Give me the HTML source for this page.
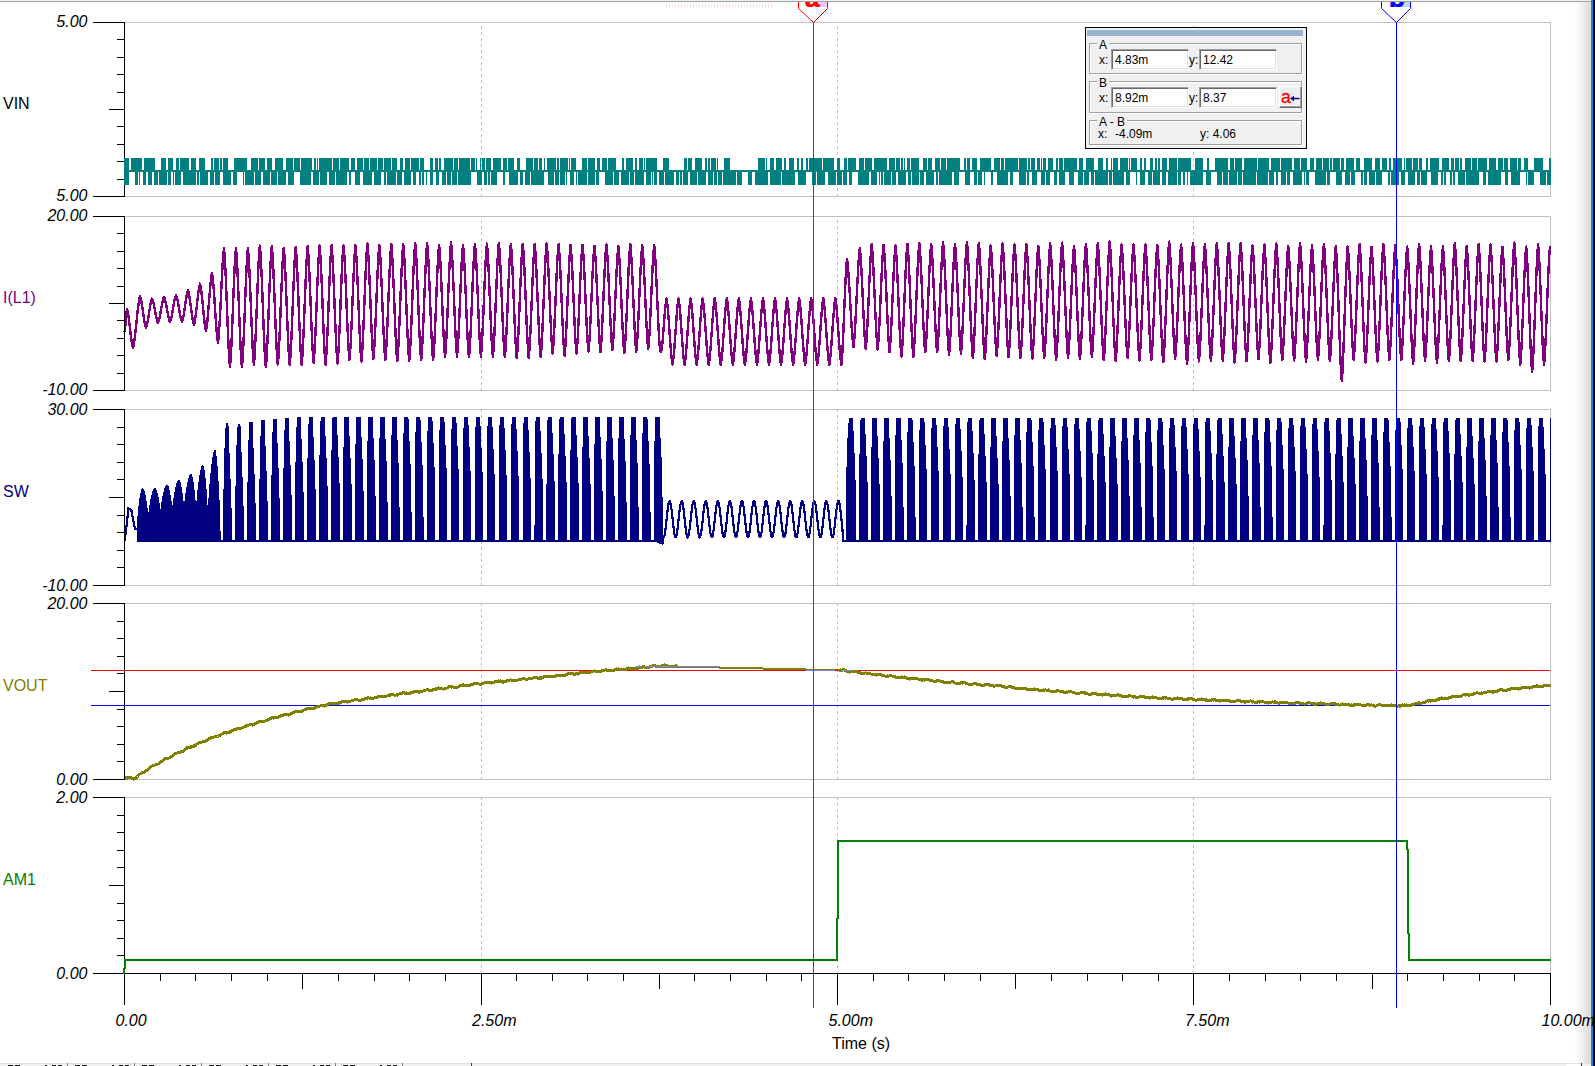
<!DOCTYPE html>
<html><head><meta charset="utf-8"><title>TINA transient result</title>
<style>
html,body{margin:0;padding:0;background:#fff;}
body{width:1595px;height:1066px;position:relative;overflow:hidden;font-family:"Liberation Sans", sans-serif;}
.t{position:absolute;white-space:nowrap;line-height:1;color:#000;}
.yl{font-style:italic;font-size:16px;text-align:right;width:70px;left:17.5px;}
.xl{font-style:italic;font-size:16px;}
.sl{font-size:16px;left:3px;}
#dlg{position:absolute;left:1085px;top:27px;width:220px;height:120px;border:1px solid #000;background:#f0f0f0;font-size:12px;}
#dlg .cap{position:absolute;left:1px;top:2px;width:216px;height:6px;background:#99b4d1;}
#dlg .grp{position:absolute;left:3px;width:211px;border:1px solid #a0a0a0;box-shadow:1px 1px 0 #fff, inset 1px 1px 0 #fff;}
#dlg .gl{position:absolute;left:11px;background:#f0f0f0;padding:0 2px;line-height:1;}
#dlg .in{position:absolute;width:76px;height:19px;background:#fff;border-top:1px solid #a0a0a0;border-left:1px solid #a0a0a0;border-right:1px solid #fff;border-bottom:1px solid #fff;box-shadow:inset 1px 1px 0 #696969, inset -1px -1px 0 #e3e3e3;}
#dlg .tx{position:absolute;line-height:1;white-space:nowrap;}
#dlg .btn{position:absolute;left:193px;top:58px;width:21px;height:20px;background:#f0f0f0;border-top:1px solid #fff;border-left:1px solid #fff;border-right:1px solid #696969;border-bottom:1px solid #696969;box-shadow:inset -1px -1px 0 #a0a0a0;}

</style></head><body>
<div style="position:absolute;left:0;top:0;width:1591px;height:1px;background:#f0f0f0"></div>
<div style="position:absolute;left:0;top:1px;width:1591px;height:1px;background:#a0a0a0"></div>
<div style="position:absolute;left:1574px;top:2px;width:17px;height:1061px;background:linear-gradient(to right,#fff,#f2f2f2 45%,#dcdcdc 92%,#e6e0d8)"></div>
<div style="position:absolute;left:1591px;top:0;width:2px;height:1066px;background:#1883e0"></div>
<div style="position:absolute;left:1593px;top:0;width:2px;height:1066px;background:#000"></div>
<div style="position:absolute;left:0;top:1063px;width:1591px;height:3px;background:#f0f0f0;border-top:1px solid #e0e0e0;box-sizing:border-box"></div>
<div style="position:absolute;left:67px;top:1063px;width:1px;height:3px;background:#808080"></div>
<div style="position:absolute;left:134px;top:1063px;width:1px;height:3px;background:#808080"></div>
<div style="position:absolute;left:201px;top:1063px;width:1px;height:3px;background:#808080"></div>
<div style="position:absolute;left:268px;top:1063px;width:1px;height:3px;background:#808080"></div>
<div style="position:absolute;left:335px;top:1063px;width:1px;height:3px;background:#808080"></div>
<div style="position:absolute;left:402px;top:1063px;width:1px;height:3px;background:#808080"></div>
<div style="position:absolute;left:471px;top:1063px;width:1px;height:3px;background:#404040"></div>
<div style="position:absolute;left:1566px;top:1064px;width:14px;height:2px;background:#fff"></div>
<div style="position:absolute;left:1581px;top:1063px;width:1px;height:3px;background:#404040"></div>
<div style="position:absolute;left:8px;top:1065px;width:5px;height:1px;background:#1a1a1a"></div>
<div style="position:absolute;left:15px;top:1065px;width:5px;height:1px;background:#1a1a1a"></div>
<div style="position:absolute;left:45px;top:1065px;width:2px;height:1px;background:#1a1a1a"></div>
<div style="position:absolute;left:52px;top:1065px;width:4px;height:1px;background:#1a1a1a"></div>
<div style="position:absolute;left:58px;top:1065px;width:4px;height:1px;background:#1a1a1a"></div>
<div style="position:absolute;left:75px;top:1065px;width:5px;height:1px;background:#1a1a1a"></div>
<div style="position:absolute;left:82px;top:1065px;width:5px;height:1px;background:#1a1a1a"></div>
<div style="position:absolute;left:112px;top:1065px;width:2px;height:1px;background:#1a1a1a"></div>
<div style="position:absolute;left:119px;top:1065px;width:4px;height:1px;background:#1a1a1a"></div>
<div style="position:absolute;left:125px;top:1065px;width:4px;height:1px;background:#1a1a1a"></div>
<div style="position:absolute;left:142px;top:1065px;width:5px;height:1px;background:#1a1a1a"></div>
<div style="position:absolute;left:149px;top:1065px;width:5px;height:1px;background:#1a1a1a"></div>
<div style="position:absolute;left:179px;top:1065px;width:2px;height:1px;background:#1a1a1a"></div>
<div style="position:absolute;left:186px;top:1065px;width:4px;height:1px;background:#1a1a1a"></div>
<div style="position:absolute;left:192px;top:1065px;width:4px;height:1px;background:#1a1a1a"></div>
<div style="position:absolute;left:209px;top:1065px;width:5px;height:1px;background:#1a1a1a"></div>
<div style="position:absolute;left:216px;top:1065px;width:5px;height:1px;background:#1a1a1a"></div>
<div style="position:absolute;left:246px;top:1065px;width:2px;height:1px;background:#1a1a1a"></div>
<div style="position:absolute;left:253px;top:1065px;width:4px;height:1px;background:#1a1a1a"></div>
<div style="position:absolute;left:259px;top:1065px;width:4px;height:1px;background:#1a1a1a"></div>
<div style="position:absolute;left:276px;top:1065px;width:5px;height:1px;background:#1a1a1a"></div>
<div style="position:absolute;left:283px;top:1065px;width:5px;height:1px;background:#1a1a1a"></div>
<div style="position:absolute;left:313px;top:1065px;width:2px;height:1px;background:#1a1a1a"></div>
<div style="position:absolute;left:320px;top:1065px;width:4px;height:1px;background:#1a1a1a"></div>
<div style="position:absolute;left:326px;top:1065px;width:4px;height:1px;background:#1a1a1a"></div>
<div style="position:absolute;left:343px;top:1065px;width:5px;height:1px;background:#1a1a1a"></div>
<div style="position:absolute;left:350px;top:1065px;width:5px;height:1px;background:#1a1a1a"></div>
<div style="position:absolute;left:380px;top:1065px;width:2px;height:1px;background:#1a1a1a"></div>
<div style="position:absolute;left:387px;top:1065px;width:4px;height:1px;background:#1a1a1a"></div>
<div style="position:absolute;left:393px;top:1065px;width:4px;height:1px;background:#1a1a1a"></div>
<svg width="1595" height="1066" viewBox="0 0 1595 1066" style="position:absolute;left:0;top:0" shape-rendering="crispEdges">
<rect x="124" y="22" width="1427" height="1" fill="#c0c0c0"/>
<rect x="124" y="196" width="1427" height="1" fill="#c0c0c0"/>
<rect x="1550" y="22" width="1" height="175" fill="#c0c0c0"/>
<path d="M481 26h1v3h-1zM481 32h1v3h-1zM481 38h1v3h-1zM481 44h1v3h-1zM481 50h1v3h-1zM481 56h1v3h-1zM481 62h1v3h-1zM481 68h1v3h-1zM481 74h1v3h-1zM481 80h1v3h-1zM481 86h1v3h-1zM481 92h1v3h-1zM481 98h1v3h-1zM481 104h1v3h-1zM481 110h1v3h-1zM481 116h1v3h-1zM481 122h1v3h-1zM481 128h1v3h-1zM481 134h1v3h-1zM481 140h1v3h-1zM481 146h1v3h-1zM481 152h1v3h-1zM481 158h1v3h-1zM481 164h1v3h-1zM481 170h1v3h-1zM481 176h1v3h-1zM481 182h1v3h-1zM481 188h1v3h-1zM481 194h1v2h-1z" fill="#c0c0c0"/>
<path d="M837 26h1v3h-1zM837 32h1v3h-1zM837 38h1v3h-1zM837 44h1v3h-1zM837 50h1v3h-1zM837 56h1v3h-1zM837 62h1v3h-1zM837 68h1v3h-1zM837 74h1v3h-1zM837 80h1v3h-1zM837 86h1v3h-1zM837 92h1v3h-1zM837 98h1v3h-1zM837 104h1v3h-1zM837 110h1v3h-1zM837 116h1v3h-1zM837 122h1v3h-1zM837 128h1v3h-1zM837 134h1v3h-1zM837 140h1v3h-1zM837 146h1v3h-1zM837 152h1v3h-1zM837 158h1v3h-1zM837 164h1v3h-1zM837 170h1v3h-1zM837 176h1v3h-1zM837 182h1v3h-1zM837 188h1v3h-1zM837 194h1v2h-1z" fill="#c0c0c0"/>
<path d="M1193 26h1v3h-1zM1193 32h1v3h-1zM1193 38h1v3h-1zM1193 44h1v3h-1zM1193 50h1v3h-1zM1193 56h1v3h-1zM1193 62h1v3h-1zM1193 68h1v3h-1zM1193 74h1v3h-1zM1193 80h1v3h-1zM1193 86h1v3h-1zM1193 92h1v3h-1zM1193 98h1v3h-1zM1193 104h1v3h-1zM1193 110h1v3h-1zM1193 116h1v3h-1zM1193 122h1v3h-1zM1193 128h1v3h-1zM1193 134h1v3h-1zM1193 140h1v3h-1zM1193 146h1v3h-1zM1193 152h1v3h-1zM1193 158h1v3h-1zM1193 164h1v3h-1zM1193 170h1v3h-1zM1193 176h1v3h-1zM1193 182h1v3h-1zM1193 188h1v3h-1zM1193 194h1v2h-1z" fill="#c0c0c0"/>
<rect x="124" y="216" width="1427" height="1" fill="#c0c0c0"/>
<rect x="124" y="390" width="1427" height="1" fill="#c0c0c0"/>
<rect x="1550" y="216" width="1" height="175" fill="#c0c0c0"/>
<path d="M481 220h1v3h-1zM481 226h1v3h-1zM481 232h1v3h-1zM481 238h1v3h-1zM481 244h1v3h-1zM481 250h1v3h-1zM481 256h1v3h-1zM481 262h1v3h-1zM481 268h1v3h-1zM481 274h1v3h-1zM481 280h1v3h-1zM481 286h1v3h-1zM481 292h1v3h-1zM481 298h1v3h-1zM481 304h1v3h-1zM481 310h1v3h-1zM481 316h1v3h-1zM481 322h1v3h-1zM481 328h1v3h-1zM481 334h1v3h-1zM481 340h1v3h-1zM481 346h1v3h-1zM481 352h1v3h-1zM481 358h1v3h-1zM481 364h1v3h-1zM481 370h1v3h-1zM481 376h1v3h-1zM481 382h1v3h-1zM481 388h1v2h-1z" fill="#c0c0c0"/>
<path d="M837 220h1v3h-1zM837 226h1v3h-1zM837 232h1v3h-1zM837 238h1v3h-1zM837 244h1v3h-1zM837 250h1v3h-1zM837 256h1v3h-1zM837 262h1v3h-1zM837 268h1v3h-1zM837 274h1v3h-1zM837 280h1v3h-1zM837 286h1v3h-1zM837 292h1v3h-1zM837 298h1v3h-1zM837 304h1v3h-1zM837 310h1v3h-1zM837 316h1v3h-1zM837 322h1v3h-1zM837 328h1v3h-1zM837 334h1v3h-1zM837 340h1v3h-1zM837 346h1v3h-1zM837 352h1v3h-1zM837 358h1v3h-1zM837 364h1v3h-1zM837 370h1v3h-1zM837 376h1v3h-1zM837 382h1v3h-1zM837 388h1v2h-1z" fill="#c0c0c0"/>
<path d="M1193 220h1v3h-1zM1193 226h1v3h-1zM1193 232h1v3h-1zM1193 238h1v3h-1zM1193 244h1v3h-1zM1193 250h1v3h-1zM1193 256h1v3h-1zM1193 262h1v3h-1zM1193 268h1v3h-1zM1193 274h1v3h-1zM1193 280h1v3h-1zM1193 286h1v3h-1zM1193 292h1v3h-1zM1193 298h1v3h-1zM1193 304h1v3h-1zM1193 310h1v3h-1zM1193 316h1v3h-1zM1193 322h1v3h-1zM1193 328h1v3h-1zM1193 334h1v3h-1zM1193 340h1v3h-1zM1193 346h1v3h-1zM1193 352h1v3h-1zM1193 358h1v3h-1zM1193 364h1v3h-1zM1193 370h1v3h-1zM1193 376h1v3h-1zM1193 382h1v3h-1zM1193 388h1v2h-1z" fill="#c0c0c0"/>
<rect x="124" y="409" width="1427" height="1" fill="#c0c0c0"/>
<rect x="124" y="585" width="1427" height="1" fill="#c0c0c0"/>
<rect x="1550" y="409" width="1" height="177" fill="#c0c0c0"/>
<path d="M481 409h1v3h-1zM481 415h1v3h-1zM481 421h1v3h-1zM481 427h1v3h-1zM481 433h1v3h-1zM481 439h1v3h-1zM481 445h1v3h-1zM481 451h1v3h-1zM481 457h1v3h-1zM481 463h1v3h-1zM481 469h1v3h-1zM481 475h1v3h-1zM481 481h1v3h-1zM481 487h1v3h-1zM481 493h1v3h-1zM481 499h1v3h-1zM481 505h1v3h-1zM481 511h1v3h-1zM481 517h1v3h-1zM481 523h1v3h-1zM481 529h1v3h-1zM481 535h1v3h-1zM481 541h1v3h-1zM481 547h1v3h-1zM481 553h1v3h-1zM481 559h1v3h-1zM481 565h1v3h-1zM481 571h1v3h-1zM481 577h1v3h-1zM481 583h1v2h-1z" fill="#c0c0c0"/>
<path d="M837 409h1v3h-1zM837 415h1v3h-1zM837 421h1v3h-1zM837 427h1v3h-1zM837 433h1v3h-1zM837 439h1v3h-1zM837 445h1v3h-1zM837 451h1v3h-1zM837 457h1v3h-1zM837 463h1v3h-1zM837 469h1v3h-1zM837 475h1v3h-1zM837 481h1v3h-1zM837 487h1v3h-1zM837 493h1v3h-1zM837 499h1v3h-1zM837 505h1v3h-1zM837 511h1v3h-1zM837 517h1v3h-1zM837 523h1v3h-1zM837 529h1v3h-1zM837 535h1v3h-1zM837 541h1v3h-1zM837 547h1v3h-1zM837 553h1v3h-1zM837 559h1v3h-1zM837 565h1v3h-1zM837 571h1v3h-1zM837 577h1v3h-1zM837 583h1v2h-1z" fill="#c0c0c0"/>
<path d="M1193 409h1v3h-1zM1193 415h1v3h-1zM1193 421h1v3h-1zM1193 427h1v3h-1zM1193 433h1v3h-1zM1193 439h1v3h-1zM1193 445h1v3h-1zM1193 451h1v3h-1zM1193 457h1v3h-1zM1193 463h1v3h-1zM1193 469h1v3h-1zM1193 475h1v3h-1zM1193 481h1v3h-1zM1193 487h1v3h-1zM1193 493h1v3h-1zM1193 499h1v3h-1zM1193 505h1v3h-1zM1193 511h1v3h-1zM1193 517h1v3h-1zM1193 523h1v3h-1zM1193 529h1v3h-1zM1193 535h1v3h-1zM1193 541h1v3h-1zM1193 547h1v3h-1zM1193 553h1v3h-1zM1193 559h1v3h-1zM1193 565h1v3h-1zM1193 571h1v3h-1zM1193 577h1v3h-1zM1193 583h1v2h-1z" fill="#c0c0c0"/>
<rect x="124" y="603" width="1427" height="1" fill="#c0c0c0"/>
<rect x="124" y="779" width="1427" height="1" fill="#c0c0c0"/>
<rect x="1550" y="603" width="1" height="177" fill="#c0c0c0"/>
<path d="M481 603h1v3h-1zM481 609h1v3h-1zM481 615h1v3h-1zM481 621h1v3h-1zM481 627h1v3h-1zM481 633h1v3h-1zM481 639h1v3h-1zM481 645h1v3h-1zM481 651h1v3h-1zM481 657h1v3h-1zM481 663h1v3h-1zM481 669h1v3h-1zM481 675h1v3h-1zM481 681h1v3h-1zM481 687h1v3h-1zM481 693h1v3h-1zM481 699h1v3h-1zM481 705h1v3h-1zM481 711h1v3h-1zM481 717h1v3h-1zM481 723h1v3h-1zM481 729h1v3h-1zM481 735h1v3h-1zM481 741h1v3h-1zM481 747h1v3h-1zM481 753h1v3h-1zM481 759h1v3h-1zM481 765h1v3h-1zM481 771h1v3h-1zM481 777h1v2h-1z" fill="#c0c0c0"/>
<path d="M837 603h1v3h-1zM837 609h1v3h-1zM837 615h1v3h-1zM837 621h1v3h-1zM837 627h1v3h-1zM837 633h1v3h-1zM837 639h1v3h-1zM837 645h1v3h-1zM837 651h1v3h-1zM837 657h1v3h-1zM837 663h1v3h-1zM837 669h1v3h-1zM837 675h1v3h-1zM837 681h1v3h-1zM837 687h1v3h-1zM837 693h1v3h-1zM837 699h1v3h-1zM837 705h1v3h-1zM837 711h1v3h-1zM837 717h1v3h-1zM837 723h1v3h-1zM837 729h1v3h-1zM837 735h1v3h-1zM837 741h1v3h-1zM837 747h1v3h-1zM837 753h1v3h-1zM837 759h1v3h-1zM837 765h1v3h-1zM837 771h1v3h-1zM837 777h1v2h-1z" fill="#c0c0c0"/>
<path d="M1193 603h1v3h-1zM1193 609h1v3h-1zM1193 615h1v3h-1zM1193 621h1v3h-1zM1193 627h1v3h-1zM1193 633h1v3h-1zM1193 639h1v3h-1zM1193 645h1v3h-1zM1193 651h1v3h-1zM1193 657h1v3h-1zM1193 663h1v3h-1zM1193 669h1v3h-1zM1193 675h1v3h-1zM1193 681h1v3h-1zM1193 687h1v3h-1zM1193 693h1v3h-1zM1193 699h1v3h-1zM1193 705h1v3h-1zM1193 711h1v3h-1zM1193 717h1v3h-1zM1193 723h1v3h-1zM1193 729h1v3h-1zM1193 735h1v3h-1zM1193 741h1v3h-1zM1193 747h1v3h-1zM1193 753h1v3h-1zM1193 759h1v3h-1zM1193 765h1v3h-1zM1193 771h1v3h-1zM1193 777h1v2h-1z" fill="#c0c0c0"/>
<rect x="124" y="797" width="1427" height="1" fill="#c0c0c0"/>
<rect x="124" y="973" width="1427" height="1" fill="#c0c0c0"/>
<rect x="1550" y="797" width="1" height="177" fill="#c0c0c0"/>
<path d="M481 797h1v3h-1zM481 803h1v3h-1zM481 809h1v3h-1zM481 815h1v3h-1zM481 821h1v3h-1zM481 827h1v3h-1zM481 833h1v3h-1zM481 839h1v3h-1zM481 845h1v3h-1zM481 851h1v3h-1zM481 857h1v3h-1zM481 863h1v3h-1zM481 869h1v3h-1zM481 875h1v3h-1zM481 881h1v3h-1zM481 887h1v3h-1zM481 893h1v3h-1zM481 899h1v3h-1zM481 905h1v3h-1zM481 911h1v3h-1zM481 917h1v3h-1zM481 923h1v3h-1zM481 929h1v3h-1zM481 935h1v3h-1zM481 941h1v3h-1zM481 947h1v3h-1zM481 953h1v3h-1zM481 959h1v3h-1zM481 965h1v3h-1zM481 971h1v2h-1z" fill="#c0c0c0"/>
<path d="M837 797h1v3h-1zM837 803h1v3h-1zM837 809h1v3h-1zM837 815h1v3h-1zM837 821h1v3h-1zM837 827h1v3h-1zM837 833h1v3h-1zM837 839h1v3h-1zM837 845h1v3h-1zM837 851h1v3h-1zM837 857h1v3h-1zM837 863h1v3h-1zM837 869h1v3h-1zM837 875h1v3h-1zM837 881h1v3h-1zM837 887h1v3h-1zM837 893h1v3h-1zM837 899h1v3h-1zM837 905h1v3h-1zM837 911h1v3h-1zM837 917h1v3h-1zM837 923h1v3h-1zM837 929h1v3h-1zM837 935h1v3h-1zM837 941h1v3h-1zM837 947h1v3h-1zM837 953h1v3h-1zM837 959h1v3h-1zM837 965h1v3h-1zM837 971h1v2h-1z" fill="#c0c0c0"/>
<path d="M1193 797h1v3h-1zM1193 803h1v3h-1zM1193 809h1v3h-1zM1193 815h1v3h-1zM1193 821h1v3h-1zM1193 827h1v3h-1zM1193 833h1v3h-1zM1193 839h1v3h-1zM1193 845h1v3h-1zM1193 851h1v3h-1zM1193 857h1v3h-1zM1193 863h1v3h-1zM1193 869h1v3h-1zM1193 875h1v3h-1zM1193 881h1v3h-1zM1193 887h1v3h-1zM1193 893h1v3h-1zM1193 899h1v3h-1zM1193 905h1v3h-1zM1193 911h1v3h-1zM1193 917h1v3h-1zM1193 923h1v3h-1zM1193 929h1v3h-1zM1193 935h1v3h-1zM1193 941h1v3h-1zM1193 947h1v3h-1zM1193 953h1v3h-1zM1193 959h1v3h-1zM1193 965h1v3h-1zM1193 971h1v2h-1z" fill="#c0c0c0"/>
<path d="M124 170h1427v2h-1427zM124 158h5v27h-5zM131 158h11v12h-11zM144 158h11v12h-11zM161 158h5v12h-5zM168 158h5v12h-5zM176 158h3v12h-3zM180 158h9v12h-9zM191 158h5v12h-5zM199 158h6v12h-6zM211 158h2v12h-2zM214 158h5v12h-5zM220 158h2v12h-2zM223 158h5v12h-5zM234 158h13v12h-13zM251 158h7v12h-7zM259 158h6v12h-6zM267 158h5v12h-5zM275 158h8v12h-8zM286 158h7v12h-7zM294 158h6v12h-6zM301 158h11v12h-11zM314 158h2v12h-2zM317 158h1v12h-1zM319 158h13v12h-13zM333 158h6v12h-6zM340 158h9v12h-9zM351 158h4v12h-4zM357 158h6v12h-6zM364 158h5v12h-5zM370 158h7v12h-7zM378 158h5v12h-5zM384 158h7v12h-7zM392 158h5v12h-5zM400 158h3v12h-3zM405 158h5v12h-5zM411 158h8v12h-8zM420 158h4v12h-4zM430 158h3v12h-3zM435 158h3v12h-3zM439 158h2v12h-2zM444 158h9v12h-9zM454 158h4v12h-4zM459 158h11v12h-11zM471 158h4v12h-4zM476 158h1v12h-1zM480 158h1v12h-1zM482 158h3v12h-3zM486 158h5v12h-5zM493 158h8v12h-8zM503 158h4v12h-4zM508 158h6v12h-6zM517 158h3v12h-3zM526 158h7v12h-7zM534 158h4v12h-4zM539 158h3v12h-3zM544 158h1v12h-1zM547 158h9v12h-9zM557 158h2v12h-2zM560 158h8v12h-8zM569 158h1v12h-1zM571 158h5v12h-5zM582 158h5v12h-5zM588 158h7v12h-7zM597 158h3v12h-3zM602 158h5v12h-5zM608 158h8v12h-8zM622 158h2v12h-2zM626 158h7v12h-7zM635 158h2v12h-2zM639 158h4v12h-4zM644 158h1v12h-1zM646 158h11v12h-11zM663 158h6v12h-6zM684 158h3v12h-3zM688 158h4v12h-4zM695 158h7v12h-7zM705 158h2v12h-2zM708 158h2v12h-2zM711 158h5v12h-5zM717 158h1v12h-1zM724 158h6v12h-6zM758 158h7v12h-7zM766 158h1v12h-1zM770 158h4v12h-4zM776 158h6v12h-6zM784 158h2v12h-2zM789 158h5v12h-5zM797 158h2v12h-2zM801 158h2v12h-2zM806 158h2v12h-2zM809 158h13v12h-13zM823 158h11v12h-11zM837 158h3v12h-3zM844 158h3v12h-3zM848 158h8v12h-8zM859 158h5v12h-5zM865 158h7v12h-7zM874 158h13v12h-13zM889 158h6v12h-6zM896 158h4v12h-4zM901 158h2v12h-2zM904 158h1v12h-1zM907 158h3v12h-3zM911 158h8v12h-8zM923 158h4v12h-4zM928 158h4v12h-4zM935 158h5v12h-5zM941 158h5v12h-5zM947 158h13v12h-13zM964 158h2v12h-2zM967 158h3v12h-3zM972 158h5v12h-5zM980 158h11v12h-11zM994 158h6v12h-6zM1001 158h3v12h-3zM1005 158h13v12h-13zM1019 158h8v12h-8zM1028 158h2v12h-2zM1031 158h4v12h-4zM1037 158h3v12h-3zM1041 158h1v12h-1zM1043 158h3v12h-3zM1048 158h5v12h-5zM1056 158h2v12h-2zM1059 158h4v12h-4zM1064 158h13v12h-13zM1079 158h4v12h-4zM1086 158h8v12h-8zM1098 158h5v12h-5zM1106 158h2v12h-2zM1111 158h1v12h-1zM1113 158h5v12h-5zM1120 158h8v12h-8zM1129 158h1v12h-1zM1131 158h6v12h-6zM1140 158h2v12h-2zM1144 158h2v12h-2zM1150 158h3v12h-3zM1155 158h2v12h-2zM1158 158h2v12h-2zM1162 158h5v12h-5zM1169 158h8v12h-8zM1178 158h13v12h-13zM1195 158h8v12h-8zM1207 158h2v12h-2zM1215 158h13v12h-13zM1230 158h4v12h-4zM1235 158h7v12h-7zM1244 158h13v12h-13zM1258 158h11v12h-11zM1271 158h9v12h-9zM1281 158h11v12h-11zM1294 158h6v12h-6zM1301 158h6v12h-6zM1310 158h4v12h-4zM1316 158h6v12h-6zM1323 158h6v12h-6zM1330 158h2v12h-2zM1333 158h7v12h-7zM1341 158h3v12h-3zM1346 158h8v12h-8zM1356 158h4v12h-4zM1364 158h8v12h-8zM1375 158h5v12h-5zM1382 158h5v12h-5zM1389 158h2v12h-2zM1393 158h9v12h-9zM1404 158h1v12h-1zM1406 158h6v12h-6zM1413 158h5v12h-5zM1419 158h3v12h-3zM1426 158h2v12h-2zM1430 158h9v12h-9zM1442 158h7v12h-7zM1451 158h3v12h-3zM1455 158h4v12h-4zM1460 158h2v12h-2zM1465 158h6v12h-6zM1472 158h5v12h-5zM1478 158h9v12h-9zM1489 158h7v12h-7zM1498 158h5v12h-5zM1504 158h4v12h-4zM1510 158h7v12h-7zM1518 158h3v12h-3zM1524 158h4v12h-4zM1534 158h9v12h-9zM1549 158h2v12h-2zM135 172h3v13h-3zM139 172h1v13h-1zM143 172h3v13h-3zM148 172h4v13h-4zM154 172h4v13h-4zM159 172h8v13h-8zM168 172h3v13h-3zM173 172h1v13h-1zM175 172h6v13h-6zM183 172h13v13h-13zM197 172h2v13h-2zM200 172h8v13h-8zM210 172h4v13h-4zM215 172h5v13h-5zM223 172h8v13h-8zM233 172h4v13h-4zM243 172h1v13h-1zM245 172h9v13h-9zM255 172h6v13h-6zM263 172h7v13h-7zM271 172h6v13h-6zM278 172h8v13h-8zM288 172h6v13h-6zM300 172h11v13h-11zM313 172h6v13h-6zM320 172h7v13h-7zM329 172h6v13h-6zM336 172h11v13h-11zM349 172h2v13h-2zM355 172h5v13h-5zM363 172h9v13h-9zM374 172h7v13h-7zM384 172h2v13h-2zM387 172h9v13h-9zM397 172h5v13h-5zM404 172h7v13h-7zM413 172h3v13h-3zM419 172h2v13h-2zM422 172h2v13h-2zM426 172h1v13h-1zM430 172h3v13h-3zM436 172h3v13h-3zM442 172h4v13h-4zM447 172h4v13h-4zM452 172h5v13h-5zM458 172h13v13h-13zM477 172h5v13h-5zM484 172h3v13h-3zM488 172h2v13h-2zM491 172h6v13h-6zM503 172h2v13h-2zM509 172h9v13h-9zM520 172h3v13h-3zM525 172h5v13h-5zM531 172h13v13h-13zM548 172h6v13h-6zM555 172h4v13h-4zM560 172h5v13h-5zM566 172h1v13h-1zM570 172h4v13h-4zM576 172h1v13h-1zM578 172h9v13h-9zM588 172h7v13h-7zM596 172h3v13h-3zM605 172h8v13h-8zM614 172h5v13h-5zM621 172h8v13h-8zM630 172h4v13h-4zM635 172h9v13h-9zM646 172h5v13h-5zM652 172h1v13h-1zM654 172h3v13h-3zM659 172h5v13h-5zM665 172h9v13h-9zM676 172h3v13h-3zM680 172h2v13h-2zM683 172h5v13h-5zM690 172h7v13h-7zM698 172h8v13h-8zM708 172h5v13h-5zM714 172h3v13h-3zM718 172h4v13h-4zM723 172h13v13h-13zM737 172h5v13h-5zM748 172h4v13h-4zM755 172h13v13h-13zM770 172h11v13h-11zM782 172h13v13h-13zM798 172h8v13h-8zM812 172h4v13h-4zM817 172h8v13h-8zM828 172h8v13h-8zM837 172h5v13h-5zM843 172h4v13h-4zM849 172h3v13h-3zM858 172h11v13h-11zM871 172h6v13h-6zM879 172h1v13h-1zM881 172h2v13h-2zM884 172h7v13h-7zM892 172h4v13h-4zM898 172h8v13h-8zM908 172h3v13h-3zM912 172h7v13h-7zM920 172h4v13h-4zM926 172h8v13h-8zM936 172h2v13h-2zM939 172h13v13h-13zM954 172h5v13h-5zM965 172h5v13h-5zM974 172h3v13h-3zM978 172h4v13h-4zM984 172h1v13h-1zM991 172h2v13h-2zM997 172h11v13h-11zM1010 172h3v13h-3zM1019 172h7v13h-7zM1027 172h2v13h-2zM1032 172h5v13h-5zM1041 172h4v13h-4zM1046 172h4v13h-4zM1054 172h3v13h-3zM1059 172h6v13h-6zM1069 172h5v13h-5zM1078 172h5v13h-5zM1084 172h5v13h-5zM1091 172h3v13h-3zM1095 172h13v13h-13zM1109 172h3v13h-3zM1113 172h11v13h-11zM1126 172h4v13h-4zM1136 172h1v13h-1zM1140 172h5v13h-5zM1148 172h4v13h-4zM1153 172h7v13h-7zM1162 172h4v13h-4zM1168 172h9v13h-9zM1178 172h3v13h-3zM1183 172h2v13h-2zM1187 172h1v13h-1zM1190 172h13v13h-13zM1206 172h5v13h-5zM1217 172h5v13h-5zM1223 172h5v13h-5zM1229 172h8v13h-8zM1238 172h4v13h-4zM1243 172h13v13h-13zM1257 172h11v13h-11zM1269 172h5v13h-5zM1276 172h2v13h-2zM1281 172h5v13h-5zM1287 172h3v13h-3zM1293 172h9v13h-9zM1304 172h1v13h-1zM1306 172h3v13h-3zM1315 172h11v13h-11zM1327 172h3v13h-3zM1336 172h6v13h-6zM1345 172h5v13h-5zM1351 172h4v13h-4zM1361 172h2v13h-2zM1364 172h3v13h-3zM1369 172h6v13h-6zM1376 172h6v13h-6zM1388 172h2v13h-2zM1391 172h8v13h-8zM1401 172h4v13h-4zM1408 172h7v13h-7zM1417 172h3v13h-3zM1421 172h6v13h-6zM1431 172h7v13h-7zM1441 172h2v13h-2zM1444 172h2v13h-2zM1450 172h2v13h-2zM1453 172h2v13h-2zM1458 172h7v13h-7zM1466 172h13v13h-13zM1483 172h3v13h-3zM1488 172h13v13h-13zM1505 172h3v13h-3zM1511 172h9v13h-9zM1526 172h1v13h-1zM1528 172h6v13h-6zM1540 172h6v13h-6zM1547 172h4v13h-4z" fill="#008080"/>
<polyline points="124.6,332 125.2,327.56 125.8,320.5 126.4,313.44 127,309 127.5,310.83 128,313.36 128.5,316.53 129,320.21 129.5,324.26 130,328.5 130.5,332.74 131,336.79 131.5,340.47 132,343.64 132.5,346.17 133,348 133.5,345.97 134,343.24 134.5,339.87 135,335.93 135.5,331.55 136,326.85 136.5,322 137,317.15 137.5,312.45 138,308.07 138.5,304.13 139,300.76 139.5,298.03 140,296 140.5,297.5 141,299.58 141.5,302.18 142,305.2 142.5,308.52 143,312 143.5,315.48 144,318.8 144.5,321.82 145,324.42 145.5,326.5 146,328 146.5,326.62 147,324.71 147.5,322.32 148,319.55 148.5,316.5 149,313.3 149.5,310.1 150,307.05 150.5,304.28 151,301.89 151.5,299.98 152,298.6 152.5,299.74 153,301.33 153.5,303.31 154,305.62 154.5,308.15 155,310.8 155.5,313.45 156,315.99 156.5,318.29 157,320.27 157.5,321.86 158,323 158.5,321.77 159,320.06 159.5,317.92 160,315.44 160.5,312.71 161,309.85 161.5,306.99 162,304.26 162.5,301.78 163,299.64 163.5,297.93 164,296.7 164.5,297.89 165,299.53 165.5,301.58 166,303.97 166.5,306.6 167,309.35 167.5,312.1 168,314.73 168.5,317.12 169,319.17 169.5,320.81 170,322 170.5,320.73 171,318.98 171.5,316.79 172,314.24 172.5,311.43 173,308.5 173.5,305.57 174,302.76 174.5,300.21 175,298.02 175.5,296.27 176,295 176.5,296.27 177,298.02 177.5,300.21 178,302.76 178.5,305.57 179,308.5 179.5,311.43 180,314.24 180.5,316.79 181,318.98 181.5,320.73 182,322 182.5,320.52 183,318.48 183.5,315.92 184,312.94 184.5,309.67 185,306.25 185.5,302.83 186,299.56 186.5,296.58 187,294.02 187.5,291.98 188,290.5 188.5,292.12 189,294.36 189.5,297.16 190,300.42 190.5,304 191,307.75 191.5,311.5 192,315.08 192.5,318.34 193,321.14 193.5,323.38 194,325 194.5,323.06 195,320.37 195.5,317.01 196,313.1 196.5,308.8 197,304.3 197.5,299.8 198,295.5 198.5,291.59 199,288.23 199.5,285.54 200,283.6 200.5,285.82 201,288.9 201.5,292.75 202,297.23 202.5,302.15 203,307.3 203.5,312.45 204,317.37 204.5,321.85 205,325.7 205.5,328.78 206,331 206.5,328.27 207,324.48 207.5,319.75 208,314.24 208.5,308.19 209,301.85 209.5,295.51 210,289.46 210.5,283.95 211,279.22 211.5,275.43 212,272.7 212.5,275.99 213,280.56 213.5,286.27 214,292.91 214.5,300.21 215,307.85 215.5,315.49 216,322.79 216.5,329.43 217,335.14 217.5,339.71 218,343 218.5,338.56 219,332.4 219.5,324.7 220,315.75 220.5,305.91 221,295.61 221.5,285.31 222,275.46 222.5,266.51 223,258.82 223.5,252.66 224,248.21 224.54,254.41 225.09,263.14 225.63,274.11 226.17,286.81 226.72,300.61 227.26,314.78 227.8,328.59 228.35,341.29 228.89,352.25 229.43,360.99 229.97,367.18 230.52,360.97 231.06,352.22 231.6,341.23 232.15,328.5 232.69,314.67 233.23,300.46 233.78,286.62 234.32,273.9 234.86,262.91 235.41,254.15 235.95,247.95 236.49,254.15 237.04,262.89 237.58,273.87 238.12,286.59 238.67,300.41 239.21,314.61 239.75,328.43 240.3,341.15 240.84,352.13 241.38,360.87 241.92,367.07 242.47,360.88 243.01,352.14 243.55,341.17 244.1,328.46 244.64,314.66 245.18,300.47 245.73,286.66 246.27,273.95 246.81,262.98 247.36,254.24 247.9,248.05 248.44,254.11 248.99,262.67 249.53,273.41 250.07,285.85 250.62,299.37 251.16,313.26 251.7,326.78 252.25,339.22 252.79,349.96 253.33,358.51 253.88,364.58 254.42,358.38 254.96,349.64 255.5,338.67 256.05,325.97 256.59,312.16 257.13,297.97 257.68,284.16 258.22,271.45 258.76,260.48 259.31,251.74 259.85,245.55 260.39,251.89 260.94,260.83 261.48,272.05 262.02,285.05 262.57,299.18 263.11,313.69 263.65,327.82 264.2,340.82 264.74,352.05 265.28,360.99 265.83,367.33 266.37,361.01 266.91,352.1 267.45,340.91 268,327.95 268.54,313.87 269.08,299.4 269.63,285.32 270.17,272.36 270.71,261.17 271.26,252.26 271.8,245.94 272.34,252.12 272.89,260.83 273.43,271.76 273.97,284.42 274.52,298.19 275.06,312.33 275.6,326.09 276.15,338.75 276.69,349.69 277.23,358.4 277.78,364.57 278.32,358.49 278.86,349.92 279.4,339.16 279.95,326.69 280.49,313.15 281.03,299.23 281.58,285.69 282.12,273.22 282.66,262.46 283.21,253.89 283.75,247.81 284.29,253.92 284.84,262.53 285.38,273.35 285.92,285.88 286.47,299.5 287.01,313.49 287.55,327.1 288.1,339.63 288.64,350.45 289.18,359.07 289.73,365.17 290.27,359.02 290.81,350.35 291.35,339.45 291.9,326.84 292.44,313.12 292.98,299.04 293.53,285.33 294.07,272.71 294.61,261.82 295.16,253.14 295.7,246.99 296.24,253.12 296.79,261.77 297.33,272.63 297.87,285.2 298.42,298.87 298.96,312.91 299.5,326.58 300.05,339.15 300.59,350.01 301.13,358.66 301.68,364.79 302.22,358.61 302.76,349.9 303.3,338.95 303.85,326.28 304.39,312.5 304.93,298.35 305.48,284.57 306.02,271.9 306.56,260.95 307.11,252.24 307.65,246.06 308.19,252.13 308.74,260.69 309.28,271.44 309.82,283.89 310.37,297.42 310.91,311.33 311.45,324.86 312,337.31 312.54,348.06 313.08,356.62 313.62,362.69 314.17,356.6 314.71,348.01 315.25,337.23 315.8,324.74 316.34,311.17 316.88,297.23 317.43,283.65 317.97,271.16 318.51,260.38 319.06,251.79 319.6,245.7 320.14,251.9 320.69,260.64 321.23,271.62 321.77,284.33 322.32,298.14 322.86,312.33 323.4,326.14 323.95,338.85 324.49,349.83 325.03,358.57 325.58,364.77 326.12,358.54 326.66,349.74 327.2,338.71 327.75,325.93 328.29,312.04 328.83,297.77 329.38,283.88 329.92,271.09 330.46,260.06 331.01,251.27 331.55,245.04 332.09,251.2 332.64,259.9 333.18,270.81 333.72,283.45 334.27,297.19 334.81,311.31 335.35,325.05 335.9,337.69 336.44,348.6 336.98,357.3 337.53,363.46 338.07,357.31 338.61,348.63 339.15,337.73 339.7,325.11 340.24,311.39 340.78,297.3 341.33,283.58 341.87,270.96 342.41,260.06 342.96,251.38 343.5,245.22 344.04,251.2 344.59,259.62 345.13,270.2 345.67,282.44 346.22,295.75 346.76,309.43 347.3,322.74 347.85,334.99 348.39,345.56 348.93,353.99 349.48,359.96 350.02,353.99 350.56,345.56 351.1,334.99 351.65,322.74 352.19,309.43 352.73,295.76 353.28,282.45 353.82,270.2 354.36,259.62 354.91,251.2 355.45,245.23 355.99,251.27 356.54,259.8 357.08,270.49 357.62,282.89 358.17,296.36 358.71,310.19 359.25,323.66 359.8,336.05 360.34,346.75 360.88,355.27 361.43,361.32 361.97,355.19 362.51,346.55 363.05,335.7 363.6,323.13 364.14,309.47 364.68,295.44 365.23,281.79 365.77,269.22 366.31,258.37 366.86,249.73 367.4,243.6 367.94,249.59 368.49,258.04 369.03,268.65 369.57,280.93 370.12,294.28 370.66,308 371.2,321.35 371.75,333.63 372.29,344.24 372.83,352.69 373.38,358.68 373.92,352.76 374.46,344.42 375,333.95 375.55,321.81 376.09,308.63 376.63,295.09 377.18,281.9 377.72,269.77 378.26,259.3 378.81,250.95 379.35,245.04 379.89,251.03 380.44,259.47 380.98,270.07 381.52,282.35 382.07,295.69 382.61,309.4 383.15,322.74 383.7,335.02 384.24,345.62 384.78,354.06 385.33,360.05 385.87,354.02 386.41,345.53 386.95,334.86 387.5,322.51 388.04,309.09 388.58,295.3 389.13,281.88 389.67,269.52 390.21,258.86 390.76,250.37 391.3,244.34 391.84,250.43 392.39,259.01 392.93,269.79 393.47,282.27 394.02,295.84 394.56,309.78 395.1,323.34 395.65,335.82 396.19,346.6 396.73,355.19 397.27,361.27 397.82,355.18 398.36,346.58 398.9,335.78 399.45,323.28 399.99,309.69 400.53,295.73 401.08,282.14 401.62,269.63 402.16,258.84 402.71,250.24 403.25,244.14 403.79,250.23 404.34,258.81 404.88,269.58 405.42,282.06 405.97,295.63 406.51,309.56 407.05,323.12 407.6,335.6 408.14,346.38 408.68,354.96 409.23,361.04 409.77,354.91 410.31,346.26 410.85,335.39 411.4,322.81 411.94,309.14 412.48,295.09 413.03,281.42 413.57,268.84 414.11,257.97 414.66,249.32 415.2,243.18 415.74,249.27 416.29,257.86 416.83,268.64 417.37,281.13 417.92,294.7 418.46,308.65 419,322.22 419.55,334.7 420.09,345.49 420.63,354.08 421.18,360.16 421.72,354.08 422.26,345.51 422.8,334.74 423.35,322.26 423.89,308.71 424.43,294.79 424.98,281.23 425.52,268.76 426.06,257.99 426.61,249.41 427.15,243.33 427.69,249.42 428.24,258.01 428.78,268.79 429.32,281.28 429.87,294.85 430.41,308.79 430.95,322.36 431.5,334.85 432.04,345.63 432.58,354.22 433.12,360.3 433.67,354.28 434.21,345.79 434.75,335.13 435.3,322.78 435.84,309.36 436.38,295.58 436.93,282.16 437.47,269.81 438.01,259.15 438.56,250.66 439.1,244.64 439.64,250.46 440.19,258.68 440.73,268.99 441.27,280.94 441.82,293.93 442.36,307.26 442.9,320.25 443.45,332.2 443.99,342.51 444.53,350.73 445.08,356.55 445.62,350.61 446.16,342.23 446.7,331.71 447.25,319.53 447.79,306.28 448.33,292.68 448.88,279.44 449.42,267.25 449.96,256.73 450.51,248.35 451.05,242.41 451.59,248.36 452.14,256.75 452.68,267.29 453.22,279.49 453.77,292.75 454.31,306.37 454.85,319.64 455.4,331.84 455.94,342.37 456.48,350.77 457.02,356.72 457.57,350.9 458.11,342.69 458.65,332.38 459.2,320.44 459.74,307.47 460.28,294.14 460.83,281.17 461.37,269.23 461.91,258.93 462.46,250.72 463,244.9 463.54,250.75 464.09,259 464.63,269.37 465.17,281.37 465.72,294.42 466.26,307.82 466.8,320.86 467.35,332.87 467.89,343.23 468.43,351.49 468.98,357.34 469.52,351.43 470.06,343.1 470.6,332.64 471.15,320.53 471.69,307.37 472.23,293.85 472.78,280.69 473.32,268.57 473.86,258.12 474.41,249.79 474.95,243.88 475.49,249.74 476.04,258.02 476.58,268.4 477.12,280.43 477.67,293.5 478.21,306.92 478.75,319.99 479.3,332.02 479.84,342.41 480.38,350.68 480.93,356.54 481.47,350.66 482.01,342.36 482.55,331.94 483.1,319.88 483.64,306.77 484.18,293.3 484.73,280.19 485.27,268.12 485.81,257.7 486.36,249.4 486.9,243.52 487.44,249.41 487.99,257.71 488.53,268.14 489.07,280.21 489.62,293.33 490.16,306.81 490.7,319.93 491.25,332.01 491.79,342.43 492.33,350.74 492.88,356.62 493.42,350.71 493.96,342.37 494.5,331.91 495.05,319.78 495.59,306.61 496.13,293.07 496.68,279.9 497.22,267.77 497.76,257.3 498.31,248.96 498.85,243.05 499.39,248.99 499.94,257.37 500.48,267.89 501.02,280.07 501.57,293.31 502.11,306.91 502.65,320.15 503.2,332.33 503.74,342.85 504.28,351.23 504.82,357.17 505.37,351.26 505.91,342.92 506.45,332.46 507,320.35 507.54,307.18 508.08,293.65 508.63,280.48 509.17,268.37 509.71,257.9 510.26,249.57 510.8,243.66 511.34,249.62 511.89,258.03 512.43,268.59 512.97,280.81 513.52,294.1 514.06,307.75 514.6,321.03 515.15,333.26 515.69,343.82 516.23,352.23 516.77,358.19 517.32,352.24 517.86,343.84 518.4,333.3 518.95,321.1 519.49,307.83 520.03,294.21 520.58,280.94 521.12,268.74 521.66,258.2 522.21,249.81 522.75,243.86 523.29,249.78 523.84,258.14 524.38,268.64 524.92,280.8 525.47,294.01 526.01,307.58 526.55,320.79 527.1,332.94 527.64,343.44 528.18,351.8 528.73,357.73 529.27,351.82 529.81,343.49 530.35,333.03 530.9,320.92 531.44,307.76 531.98,294.24 532.53,281.08 533.07,268.97 533.61,258.51 534.16,250.18 534.7,244.28 535.24,250.16 535.79,258.46 536.33,268.88 536.87,280.94 537.42,294.06 537.96,307.53 538.5,320.64 539.05,332.7 539.59,343.12 540.13,351.42 540.68,357.3 541.22,351.38 541.76,343.04 542.3,332.56 542.85,320.42 543.39,307.24 543.93,293.69 544.48,280.5 545.02,268.37 545.56,257.89 546.11,249.54 546.65,243.63 547.19,249.33 547.74,257.39 548.28,267.5 548.82,279.21 549.37,291.93 549.91,305.01 550.45,317.73 551,329.44 551.54,339.55 552.08,347.61 552.62,353.32 553.17,347.63 553.71,339.61 554.25,329.55 554.8,317.89 555.34,305.21 555.88,292.2 556.43,279.53 556.97,267.87 557.51,257.8 558.06,249.78 558.6,244.09 559.14,249.91 559.69,258.12 560.23,268.42 560.77,280.35 561.32,293.31 561.86,306.63 562.4,319.6 562.95,331.53 563.49,341.83 564.03,350.03 564.57,355.85 565.12,350.07 565.66,341.91 566.2,331.67 566.75,319.81 567.29,306.92 567.83,293.68 568.38,280.79 568.92,268.92 569.46,258.68 570.01,250.52 570.55,244.74 571.09,250.41 571.64,258.4 572.18,268.43 572.72,280.05 573.27,292.68 573.81,305.66 574.35,318.28 574.9,329.91 575.44,339.94 575.98,347.93 576.52,353.6 577.07,347.93 577.61,339.94 578.15,329.91 578.7,318.29 579.24,305.67 579.78,292.7 580.33,280.07 580.87,268.45 581.41,258.42 581.96,250.43 582.5,244.77 583.04,250.32 583.59,258.16 584.13,267.99 584.67,279.39 585.22,291.77 585.76,304.49 586.3,316.87 586.85,328.26 587.39,338.1 587.93,345.94 588.48,351.49 589.02,345.99 589.56,338.22 590.1,328.47 590.65,317.18 591.19,304.91 591.73,292.3 592.28,280.03 592.82,268.74 593.36,258.99 593.91,251.22 594.45,245.72 594.99,251.26 595.54,259.09 596.08,268.91 596.62,280.29 597.17,292.65 597.71,305.35 598.25,317.71 598.8,329.09 599.34,338.91 599.88,346.73 600.43,352.28 600.97,346.67 601.51,338.75 602.05,328.81 602.6,317.31 603.14,304.8 603.68,291.95 604.23,279.44 604.77,267.93 605.31,257.99 605.86,250.08 606.4,244.47 606.94,249.95 607.49,257.69 608.03,267.4 608.57,278.64 609.12,290.87 609.66,303.42 610.2,315.64 610.75,326.89 611.29,336.6 611.83,344.34 612.38,349.82 612.92,344.44 613.46,336.84 614,327.31 614.55,316.27 615.09,304.27 615.63,291.94 616.18,279.94 616.72,268.9 617.26,259.36 617.81,251.77 618.35,246.38 618.89,251.94 619.44,259.77 619.98,269.61 620.52,281 621.07,293.39 621.61,306.1 622.15,318.49 622.7,329.88 623.24,339.71 623.78,347.55 624.32,353.11 624.87,347.44 625.41,339.45 625.95,329.42 626.5,317.81 627.04,305.19 627.58,292.22 628.13,279.59 628.67,267.98 629.21,257.95 629.76,249.96 630.3,244.3 630.84,249.9 631.39,257.8 631.93,267.72 632.47,279.21 633.02,291.7 633.56,304.53 634.1,317.01 634.65,328.5 635.19,338.42 635.73,346.33 636.27,351.93 636.82,346.39 637.36,338.57 637.9,328.76 638.45,317.4 638.99,305.04 639.53,292.36 640.08,280.01 640.62,268.64 641.16,258.83 641.71,251.01 642.25,245.47 642.79,250.86 643.34,258.45 643.88,267.98 644.42,279.03 644.97,291.03 645.51,303.36 646.05,315.36 646.6,326.4 647.14,335.93 647.68,343.53 648.23,348.91 648.77,343.52 649.31,335.91 649.85,326.37 650.4,315.31 650.94,303.29 651.48,290.95 652.03,278.93 652.57,267.88 653.11,258.33 653.66,250.72 654.2,245.33 654.74,250.84 655.29,258.6 655.83,268.35 656.37,279.64 656.92,291.9 657.46,304.51 658,316.77 658.55,328.06 659.09,337.81 659.63,345.57 660.18,351.08 660.69,351.54 661.2,352 661.73,348.87 662.26,344.36 662.79,338.69 663.32,332.17 663.85,325.2 664.38,318.23 664.91,311.71 665.44,306.04 665.97,301.53 666.5,298.4 667,301.51 667.5,305.83 668.01,311.22 668.51,317.49 669.01,324.38 669.51,331.6 670.02,338.82 670.52,345.71 671.02,351.98 671.52,357.37 672.03,361.69 672.53,364.8 673.03,361.69 673.53,357.37 674.04,351.98 674.54,345.71 675.04,338.82 675.54,331.6 676.05,324.38 676.55,317.49 677.05,311.22 677.55,305.83 678.06,301.51 678.56,298.4 679.06,301.51 679.56,305.83 680.07,311.22 680.57,317.49 681.07,324.38 681.57,331.6 682.08,338.82 682.58,345.71 683.08,351.98 683.58,357.37 684.09,361.69 684.59,364.8 685.09,361.69 685.59,357.37 686.1,351.98 686.6,345.71 687.1,338.82 687.61,331.6 688.11,324.38 688.61,317.49 689.11,311.22 689.62,305.83 690.12,301.51 690.62,298.4 691.12,301.51 691.62,305.83 692.13,311.22 692.63,317.49 693.13,324.38 693.63,331.6 694.14,338.82 694.64,345.71 695.14,351.98 695.64,357.37 696.15,361.69 696.65,364.8 697.15,361.69 697.65,357.37 698.16,351.98 698.66,345.71 699.16,338.82 699.66,331.6 700.17,324.38 700.67,317.49 701.17,311.22 701.67,305.83 702.18,301.51 702.68,298.4 703.18,301.51 703.68,305.83 704.19,311.22 704.69,317.49 705.19,324.38 705.69,331.6 706.2,338.82 706.7,345.71 707.2,351.98 707.7,357.37 708.21,361.69 708.71,364.8 709.21,361.69 709.71,357.37 710.22,351.98 710.72,345.71 711.22,338.82 711.72,331.6 712.23,324.38 712.73,317.49 713.23,311.22 713.74,305.83 714.24,301.51 714.74,298.4 715.24,301.51 715.75,305.83 716.25,311.22 716.75,317.49 717.25,324.38 717.75,331.6 718.26,338.82 718.76,345.71 719.26,351.98 719.76,357.37 720.27,361.69 720.77,364.8 721.27,361.69 721.77,357.37 722.28,351.98 722.78,345.71 723.28,338.82 723.78,331.6 724.29,324.38 724.79,317.49 725.29,311.22 725.79,305.83 726.3,301.51 726.8,298.4 727.3,301.51 727.8,305.83 728.31,311.22 728.81,317.49 729.31,324.38 729.81,331.6 730.32,338.82 730.82,345.71 731.32,351.98 731.82,357.37 732.33,361.69 732.83,364.8 733.33,361.69 733.83,357.37 734.34,351.98 734.84,345.71 735.34,338.82 735.85,331.6 736.35,324.38 736.85,317.49 737.35,311.22 737.86,305.83 738.36,301.51 738.86,298.4 739.36,301.51 739.87,305.83 740.37,311.22 740.87,317.49 741.37,324.38 741.88,331.6 742.38,338.82 742.88,345.71 743.38,351.98 743.88,357.37 744.39,361.69 744.89,364.8 745.39,361.69 745.89,357.37 746.4,351.98 746.9,345.71 747.4,338.82 747.9,331.6 748.41,324.38 748.91,317.49 749.41,311.22 749.91,305.83 750.42,301.51 750.92,298.4 751.42,301.51 751.92,305.83 752.43,311.22 752.93,317.49 753.43,324.38 753.93,331.6 754.44,338.82 754.94,345.71 755.44,351.98 755.94,357.37 756.45,361.69 756.95,364.8 757.45,361.69 757.95,357.37 758.46,351.98 758.96,345.71 759.46,338.82 759.96,331.6 760.47,324.38 760.97,317.49 761.47,311.22 761.98,305.83 762.48,301.51 762.98,298.4 763.48,301.51 763.99,305.83 764.49,311.22 764.99,317.49 765.49,324.38 766,331.6 766.5,338.82 767,345.71 767.5,351.98 768,357.37 768.51,361.69 769.01,364.8 769.51,361.69 770.01,357.37 770.52,351.98 771.02,345.71 771.52,338.82 772.02,331.6 772.53,324.38 773.03,317.49 773.53,311.22 774.03,305.83 774.54,301.51 775.04,298.4 775.54,301.51 776.04,305.83 776.55,311.22 777.05,317.49 777.55,324.38 778.05,331.6 778.56,338.82 779.06,345.71 779.56,351.98 780.06,357.37 780.57,361.69 781.07,364.8 781.57,361.69 782.07,357.37 782.58,351.98 783.08,345.71 783.58,338.82 784.09,331.6 784.59,324.38 785.09,317.49 785.59,311.22 786.1,305.83 786.6,301.51 787.1,298.4 787.6,301.51 788.11,305.83 788.61,311.22 789.11,317.49 789.61,324.38 790.12,331.6 790.62,338.82 791.12,345.71 791.62,351.98 792.12,357.37 792.63,361.69 793.13,364.8 793.63,361.69 794.13,357.37 794.64,351.98 795.14,345.71 795.64,338.82 796.14,331.6 796.65,324.38 797.15,317.49 797.65,311.22 798.15,305.83 798.66,301.51 799.16,298.4 799.66,301.51 800.16,305.83 800.67,311.22 801.17,317.49 801.67,324.38 802.17,331.6 802.68,338.82 803.18,345.71 803.68,351.98 804.18,357.37 804.69,361.69 805.19,364.8 805.69,361.69 806.19,357.37 806.7,351.98 807.2,345.71 807.7,338.82 808.2,331.6 808.71,324.38 809.21,317.49 809.71,311.22 810.22,305.83 810.72,301.51 811.22,298.4 811.72,301.51 812.23,305.83 812.73,311.22 813.23,317.49 813.73,324.38 814.24,331.6 814.74,338.82 815.24,345.71 815.74,351.98 816.25,357.37 816.75,361.69 817.25,364.8 817.75,361.69 818.25,357.37 818.76,351.98 819.26,345.71 819.76,338.82 820.26,331.6 820.77,324.38 821.27,317.49 821.77,311.22 822.27,305.83 822.78,301.51 823.28,298.4 823.78,301.51 824.28,305.83 824.79,311.22 825.29,317.49 825.79,324.38 826.29,331.6 826.8,338.82 827.3,345.71 827.8,351.98 828.3,357.37 828.81,361.69 829.31,364.8 829.81,361.69 830.31,357.37 830.82,351.98 831.32,345.71 831.82,338.82 832.33,331.6 832.83,324.38 833.33,317.49 833.83,311.22 834.34,305.83 834.84,301.51 835.34,298.4 835.84,301.51 836.35,305.83 836.85,311.22 837.35,317.49 837.85,324.38 838.36,331.6 838.86,338.82 839.36,345.71 839.86,351.98 840.37,357.37 840.87,361.69 841.37,364.8 841.88,359.29 842.39,351.52 842.91,341.77 843.42,330.48 843.93,318.2 844.44,305.6 844.95,293.32 845.46,282.03 845.98,272.28 846.49,264.51 847,259 847.5,262.75 848,267.86 848.5,274.22 849,281.64 849.5,289.85 850,298.56 850.5,307.44 851,316.15 851.5,324.36 852,331.78 852.5,338.14 853,343.25 853.5,347 854.02,342.37 854.55,335.95 855.08,327.94 855.6,318.61 856.12,308.35 856.65,297.62 857.17,286.89 857.7,276.64 858.22,267.31 858.75,259.29 859.27,252.87 859.8,248.24 860.34,253.47 860.88,260.85 861.42,270.12 861.96,280.84 862.5,292.5 863.05,304.48 863.59,316.14 864.13,326.87 864.67,336.13 865.21,343.51 865.75,348.74 866.29,343.31 866.83,335.64 867.37,326.02 867.91,314.87 868.45,302.76 869,290.32 869.54,278.2 870.08,267.06 870.62,257.44 871.16,249.77 871.7,244.33 872.24,249.81 872.78,257.54 873.32,267.25 873.86,278.48 874.4,290.7 874.95,303.24 875.49,315.45 876.03,326.69 876.57,336.4 877.11,344.12 877.65,349.6 878.19,344.15 878.73,336.45 879.27,326.78 879.81,315.58 880.35,303.42 880.9,290.92 881.44,278.75 881.98,267.56 882.52,257.89 883.06,250.19 883.6,244.73 884.14,250.32 884.68,258.2 885.22,268.09 885.76,279.55 886.3,292 886.85,304.79 887.39,317.24 887.93,328.69 888.47,338.59 889.01,346.47 889.55,352.05 890.09,346.5 890.63,338.68 891.17,328.85 891.71,317.48 892.25,305.11 892.8,292.41 893.34,280.04 893.88,268.66 894.42,258.84 894.96,251.01 895.5,245.46 896.04,251.24 896.58,259.39 897.12,269.62 897.66,281.46 898.2,294.34 898.75,307.56 899.29,320.44 899.83,332.28 900.37,342.51 900.91,350.66 901.45,356.44 901.99,350.57 902.53,342.3 903.07,331.92 903.61,319.89 904.15,306.82 904.7,293.39 905.24,280.32 905.78,268.29 906.32,257.91 906.86,249.64 907.4,243.77 907.94,249.66 908.48,257.97 909.02,268.39 909.56,280.47 910.1,293.59 910.65,307.07 911.19,320.2 911.73,332.27 912.27,342.7 912.81,351 913.35,356.89 913.89,350.96 914.43,342.59 914.97,332.08 915.51,319.91 916.05,306.69 916.6,293.1 917.14,279.87 917.68,267.7 918.22,257.2 918.76,248.83 919.3,242.89 919.84,248.58 920.38,256.61 920.92,266.68 921.46,278.35 922,291.02 922.55,304.05 923.09,316.73 923.63,328.4 924.17,338.47 924.71,346.49 925.25,352.18 925.79,346.56 926.33,338.63 926.87,328.68 927.41,317.15 927.95,304.62 928.5,291.76 929.04,279.23 929.58,267.7 930.12,257.75 930.66,249.82 931.2,244.2 931.74,249.82 932.28,257.76 932.82,267.72 933.36,279.26 933.9,291.8 934.45,304.68 934.99,317.22 935.53,328.76 936.07,338.72 936.61,346.66 937.15,352.29 937.69,346.57 938.23,338.5 938.77,328.37 939.31,316.64 939.85,303.89 940.4,290.79 940.94,278.04 941.48,266.31 942.02,256.18 942.56,248.11 943.1,242.39 943.64,248.23 944.18,256.48 944.72,266.84 945.26,278.83 945.8,291.86 946.35,305.25 946.89,318.28 947.43,330.27 947.97,340.62 948.51,348.87 949.05,354.72 949.59,348.97 950.13,340.85 950.67,330.67 951.21,318.88 951.75,306.06 952.3,292.9 952.84,280.08 953.38,268.29 953.92,258.11 954.46,250 955,244.25 955.54,249.94 956.08,257.98 956.62,268.07 957.16,279.75 957.7,292.45 958.25,305.49 958.79,318.19 959.33,329.87 959.87,339.96 960.41,347.99 960.95,353.69 961.49,347.86 962.03,339.63 962.57,329.31 963.11,317.36 963.65,304.36 964.2,291.02 964.74,278.02 965.28,266.07 965.82,255.74 966.36,247.52 966.9,241.69 967.44,247.74 967.98,256.28 968.52,267 969.06,279.41 969.6,292.9 970.15,306.75 970.69,320.24 971.23,332.65 971.77,343.37 972.31,351.91 972.85,357.96 973.39,351.97 973.93,343.52 974.47,332.92 975.01,320.64 975.55,307.29 976.1,293.58 976.64,280.23 977.18,267.95 977.72,257.35 978.26,248.9 978.8,242.91 979.34,248.94 979.88,257.45 980.42,268.14 980.96,280.51 981.5,293.96 982.05,307.77 982.59,321.22 983.13,333.59 983.67,344.27 984.21,352.78 984.75,358.82 985.29,352.92 985.83,344.6 986.37,334.16 986.91,322.07 987.45,308.93 988,295.42 988.54,282.28 989.08,270.19 989.62,259.75 990.16,251.43 990.7,245.53 991.24,251.28 991.78,259.39 992.32,269.57 992.86,281.36 993.4,294.17 993.95,307.34 994.49,320.15 995.03,331.94 995.57,342.12 996.11,350.23 996.65,355.98 997.19,350.13 997.73,341.87 998.27,331.51 998.81,319.51 999.35,306.47 999.9,293.08 1000.44,280.04 1000.98,268.04 1001.52,257.68 1002.06,249.42 1002.6,243.57 1003.14,249.48 1003.68,257.82 1004.22,268.28 1004.76,280.41 1005.3,293.58 1005.85,307.11 1006.39,320.28 1006.93,332.4 1007.47,342.87 1008.01,351.21 1008.55,357.12 1009.09,351.25 1009.63,342.97 1010.17,332.58 1010.71,320.55 1011.25,307.47 1011.8,294.04 1012.34,280.96 1012.88,268.93 1013.42,258.54 1013.96,250.26 1014.5,244.4 1015.04,250.3 1015.58,258.64 1016.12,269.1 1016.66,281.21 1017.2,294.38 1017.75,307.91 1018.29,321.07 1018.83,333.19 1019.37,343.65 1019.91,351.98 1020.45,357.89 1020.99,351.96 1021.53,343.6 1022.07,333.11 1022.61,320.95 1023.15,307.74 1023.7,294.17 1024.24,280.96 1024.78,268.8 1025.32,258.3 1025.86,249.94 1026.4,244.02 1026.94,249.97 1027.48,258.37 1028.02,268.91 1028.56,281.12 1029.1,294.38 1029.65,308.01 1030.19,321.28 1030.73,333.49 1031.27,344.03 1031.81,352.43 1032.35,358.38 1032.89,352.52 1033.43,344.25 1033.97,333.86 1034.51,321.84 1035.05,308.77 1035.6,295.34 1036.14,282.28 1036.68,270.25 1037.22,259.87 1037.76,251.6 1038.3,245.73 1038.84,251.58 1039.38,259.83 1039.92,270.19 1040.46,282.19 1041,295.23 1041.55,308.62 1042.09,321.66 1042.63,333.66 1043.17,344.02 1043.71,352.27 1044.25,358.12 1044.79,352.15 1045.33,343.73 1045.87,333.16 1046.41,320.92 1046.95,307.61 1047.5,293.94 1048.04,280.64 1048.58,268.4 1049.12,257.83 1049.66,249.41 1050.2,243.44 1050.74,249.49 1051.28,258.02 1051.82,268.73 1052.36,281.14 1052.9,294.62 1053.45,308.47 1053.99,321.95 1054.53,334.36 1055.07,345.07 1055.61,353.6 1056.15,359.65 1056.69,353.55 1057.23,344.96 1057.77,334.17 1058.31,321.67 1058.85,308.08 1059.4,294.13 1059.94,280.55 1060.48,268.05 1061.02,257.26 1061.56,248.66 1062.1,242.57 1062.64,248.56 1063.18,257.01 1063.72,267.63 1064.26,279.92 1064.8,293.27 1065.35,306.99 1065.89,320.35 1066.43,332.64 1066.97,343.25 1067.51,351.71 1068.05,357.7 1068.59,351.88 1069.13,343.67 1069.67,333.37 1070.21,321.43 1070.75,308.46 1071.3,295.14 1071.84,282.17 1072.38,270.23 1072.92,259.93 1073.46,251.72 1074,245.9 1074.54,251.8 1075.08,260.12 1075.62,270.57 1076.16,282.68 1076.7,295.83 1077.25,309.34 1077.79,322.49 1078.33,334.59 1078.87,345.04 1079.41,353.36 1079.95,359.26 1080.49,353.26 1081.03,344.8 1081.57,334.17 1082.11,321.86 1082.65,308.49 1083.2,294.75 1083.74,281.37 1084.28,269.06 1084.82,258.43 1085.36,249.97 1085.9,243.97 1086.44,249.84 1086.98,258.13 1087.52,268.53 1088.06,280.58 1088.6,293.67 1089.15,307.12 1089.69,320.21 1090.23,332.26 1090.77,342.66 1091.31,350.94 1091.85,356.82 1092.39,350.91 1092.93,342.58 1093.47,332.13 1094.01,320.02 1094.55,306.85 1095.1,293.33 1095.64,280.17 1096.18,268.06 1096.72,257.6 1097.26,249.27 1097.8,243.37 1098.34,249.45 1098.88,258.04 1099.42,268.81 1099.96,281.29 1100.5,294.85 1101.05,308.78 1101.59,322.34 1102.13,334.82 1102.67,345.6 1103.21,354.18 1103.75,360.26 1104.29,354.09 1104.83,345.37 1105.37,334.44 1105.91,321.77 1106.45,308 1107,293.86 1107.54,280.09 1108.08,267.42 1108.62,256.48 1109.16,247.77 1109.7,241.59 1110.24,247.79 1110.78,256.54 1111.32,267.51 1111.86,280.23 1112.4,294.05 1112.95,308.24 1113.49,322.06 1114.03,334.78 1114.57,345.75 1115.11,354.5 1115.65,360.7 1116.19,354.64 1116.73,346.1 1117.27,335.38 1117.81,322.95 1118.35,309.46 1118.9,295.59 1119.44,282.09 1119.98,269.67 1120.52,258.94 1121.06,250.4 1121.6,244.34 1122.14,250.25 1122.68,258.59 1123.22,269.05 1123.76,281.18 1124.3,294.35 1124.85,307.88 1125.39,321.05 1125.93,333.17 1126.47,343.64 1127.01,351.97 1127.55,357.88 1128.09,351.97 1128.63,343.63 1129.17,333.17 1129.71,321.04 1130.25,307.87 1130.8,294.34 1131.34,281.16 1131.88,269.04 1132.42,258.57 1132.96,250.23 1133.5,244.32 1134.04,250.36 1134.58,258.88 1135.12,269.58 1135.66,281.96 1136.2,295.42 1136.75,309.25 1137.29,322.71 1137.83,335.1 1138.37,345.79 1138.91,354.31 1139.45,360.35 1139.99,354.33 1140.53,345.82 1141.07,335.15 1141.61,322.79 1142.15,309.36 1142.7,295.55 1143.24,282.12 1143.78,269.76 1144.32,259.09 1144.86,250.58 1145.4,244.56 1145.94,250.56 1146.48,259.04 1147.02,269.67 1147.56,282 1148.1,295.38 1148.65,309.14 1149.19,322.53 1149.73,334.85 1150.27,345.49 1150.81,353.96 1151.35,359.97 1151.89,353.97 1152.43,345.5 1152.97,334.88 1153.51,322.57 1154.05,309.19 1154.6,295.45 1155.14,282.08 1155.68,269.77 1156.22,259.15 1156.76,250.68 1157.3,244.68 1157.84,250.8 1158.38,259.44 1158.92,270.29 1159.46,282.84 1160,296.49 1160.55,310.51 1161.09,324.16 1161.63,336.72 1162.17,347.56 1162.71,356.2 1163.25,362.32 1163.79,356.04 1164.33,347.18 1164.87,336.05 1165.41,323.16 1165.95,309.16 1166.5,294.77 1167.04,280.76 1167.58,267.87 1168.12,256.75 1168.66,247.88 1169.2,241.6 1169.74,247.7 1170.28,256.31 1170.82,267.12 1171.36,279.63 1171.9,293.23 1172.45,307.2 1172.99,320.81 1173.53,333.32 1174.07,344.13 1174.61,352.73 1175.15,358.84 1175.69,352.89 1176.23,344.5 1176.77,333.96 1177.31,321.76 1177.85,308.5 1178.4,294.88 1178.94,281.62 1179.48,269.42 1180.02,258.88 1180.56,250.49 1181.1,244.54 1181.64,250.76 1182.18,259.54 1182.72,270.55 1183.26,283.31 1183.8,297.17 1184.35,311.41 1184.89,325.27 1185.43,338.03 1185.97,349.05 1186.51,357.82 1187.05,364.04 1187.59,357.72 1188.13,348.81 1188.67,337.62 1189.21,324.65 1189.75,310.57 1190.3,296.1 1190.84,282.01 1191.38,269.05 1191.92,257.86 1192.46,248.95 1193,242.63 1193.54,248.82 1194.08,257.54 1194.62,268.5 1195.16,281.19 1195.7,294.98 1196.25,309.14 1196.79,322.93 1197.33,335.62 1197.87,346.58 1198.41,355.3 1198.95,361.49 1199.49,355.38 1200.03,346.77 1200.57,335.96 1201.11,323.44 1201.65,309.84 1202.2,295.86 1202.74,282.25 1203.28,269.73 1203.82,258.92 1204.36,250.31 1204.9,244.2 1205.44,250.27 1205.98,258.83 1206.52,269.57 1207.06,282.02 1207.6,295.54 1208.15,309.44 1208.69,322.96 1209.23,335.4 1209.77,346.15 1210.31,354.71 1210.85,360.78 1211.39,354.66 1211.93,346.03 1212.47,335.2 1213.01,322.66 1213.55,309.02 1214.1,295.02 1214.64,281.38 1215.18,268.84 1215.72,258.01 1216.26,249.38 1216.8,243.26 1217.34,249.38 1217.88,258.01 1218.42,268.83 1218.96,281.38 1219.5,295.01 1220.05,309.01 1220.59,322.64 1221.13,335.18 1221.67,346.01 1222.21,354.64 1222.75,360.75 1223.29,354.64 1223.83,346.02 1224.37,335.21 1224.91,322.68 1225.45,309.06 1226,295.07 1226.54,281.45 1227.08,268.92 1227.62,258.1 1228.16,249.49 1228.7,243.38 1229.24,249.57 1229.78,258.3 1230.32,269.26 1230.86,281.96 1231.4,295.76 1231.95,309.94 1232.49,323.74 1233.03,336.44 1233.57,347.4 1234.11,356.13 1234.65,362.33 1235.19,356.12 1235.73,347.37 1236.27,336.39 1236.81,323.67 1237.35,309.84 1237.9,295.64 1238.44,281.81 1238.98,269.09 1239.52,258.11 1240.06,249.36 1240.6,243.16 1241.14,249.3 1241.68,257.96 1242.22,268.83 1242.76,281.43 1243.3,295.12 1243.85,309.18 1244.39,322.87 1244.93,335.46 1245.47,346.34 1246.01,355 1246.55,361.14 1247.09,355.12 1247.63,346.61 1248.17,335.94 1248.71,323.58 1249.25,310.15 1249.8,296.36 1250.34,282.93 1250.88,270.57 1251.42,259.9 1251.96,251.39 1252.5,245.37 1253.04,251.3 1253.58,259.66 1254.12,270.15 1254.66,282.31 1255.2,295.52 1255.75,309.09 1256.29,322.29 1256.83,334.45 1257.37,344.94 1257.91,353.31 1258.45,359.23 1258.99,353.26 1259.53,344.84 1260.07,334.27 1260.61,322.03 1261.15,308.72 1261.7,295.05 1262.24,281.75 1262.78,269.51 1263.32,258.93 1263.86,250.51 1264.4,244.54 1264.94,250.72 1265.48,259.43 1266.02,270.36 1266.56,283.02 1267.1,296.78 1267.65,310.91 1268.19,324.67 1268.73,337.33 1269.27,348.26 1269.81,356.97 1270.35,363.14 1270.89,356.91 1271.43,348.13 1271.97,337.1 1272.51,324.32 1273.05,310.44 1273.6,296.17 1274.14,282.29 1274.68,269.51 1275.22,258.48 1275.76,249.7 1276.3,243.47 1276.84,249.55 1277.38,258.13 1277.92,268.9 1278.46,281.38 1279,294.94 1279.55,308.87 1280.09,322.43 1280.63,334.9 1281.17,345.68 1281.71,354.26 1282.25,360.34 1282.79,354.38 1283.33,345.97 1283.87,335.41 1284.41,323.18 1284.95,309.89 1285.5,296.23 1286.04,282.94 1286.58,270.71 1287.12,260.15 1287.66,251.74 1288.2,245.78 1288.74,251.75 1289.28,260.17 1289.82,270.74 1290.36,282.98 1290.9,296.28 1291.45,309.95 1291.99,323.25 1292.53,335.49 1293.07,346.06 1293.61,354.48 1294.15,360.45 1294.69,354.34 1295.23,345.72 1295.77,334.91 1296.31,322.38 1296.85,308.76 1297.4,294.78 1297.94,281.16 1298.48,268.63 1299.02,257.82 1299.56,249.2 1300.1,243.09 1300.64,249.26 1301.18,257.96 1301.72,268.87 1302.26,281.52 1302.8,295.26 1303.35,309.38 1303.89,323.12 1304.43,335.77 1304.97,346.68 1305.51,355.38 1306.05,361.55 1306.59,355.5 1307.13,346.98 1307.67,336.29 1308.21,323.89 1308.75,310.43 1309.3,296.6 1309.84,283.13 1310.38,270.74 1310.92,260.04 1311.46,251.52 1312,245.48 1312.54,251.43 1313.08,259.82 1313.62,270.35 1314.16,282.54 1314.7,295.8 1315.25,309.41 1315.79,322.67 1316.33,334.86 1316.87,345.39 1317.41,353.78 1317.95,359.73 1318.49,353.7 1319.03,345.19 1319.57,334.51 1320.11,322.15 1320.65,308.71 1321.2,294.9 1321.74,281.46 1322.28,269.09 1322.82,258.41 1323.36,249.91 1323.9,243.88 1324.44,249.98 1324.98,258.58 1325.52,269.37 1326.06,281.88 1326.6,295.47 1327.15,309.43 1327.69,323.02 1328.23,335.53 1328.77,346.32 1329.31,354.92 1329.85,361.02 1330.39,355.05 1330.93,346.62 1331.47,336.05 1332.01,323.8 1332.55,310.48 1333.1,296.81 1333.64,283.49 1334.18,271.24 1334.72,260.67 1335.26,252.24 1335.8,246.27 1336.34,253.28 1336.88,263.17 1337.42,275.59 1337.96,289.98 1338.5,305.61 1339.05,321.66 1339.59,337.29 1340.13,351.68 1340.67,364.09 1341.21,373.99 1341.75,381 1342.29,374 1342.83,364.12 1343.37,351.72 1343.91,337.35 1344.45,321.75 1345,305.71 1345.54,290.1 1346.08,275.74 1346.62,263.34 1347.16,253.46 1347.7,246.46 1348.24,252.38 1348.78,260.72 1349.32,271.2 1349.86,283.34 1350.4,296.53 1350.95,310.08 1351.49,323.27 1352.03,335.41 1352.57,345.89 1353.11,354.23 1353.65,360.15 1354.19,354.12 1354.73,345.6 1355.27,334.92 1355.81,322.54 1356.35,309.09 1356.9,295.27 1357.44,281.82 1357.98,269.45 1358.52,258.76 1359.06,250.25 1359.6,244.21 1360.14,250.39 1360.68,259.09 1361.22,270.02 1361.76,282.69 1362.3,296.44 1362.85,310.58 1363.39,324.34 1363.93,337 1364.47,347.93 1365.01,356.64 1365.55,362.81 1366.09,356.77 1366.63,348.25 1367.17,337.56 1367.71,325.17 1368.25,311.71 1368.8,297.88 1369.34,284.41 1369.88,272.02 1370.42,261.33 1370.96,252.81 1371.5,246.77 1372.04,252.75 1372.58,261.19 1373.12,271.79 1373.66,284.06 1374.2,297.4 1374.75,311.1 1375.29,324.44 1375.83,336.71 1376.37,347.31 1376.91,355.75 1377.45,361.73 1377.99,355.6 1378.53,346.95 1379.07,336.09 1379.61,323.51 1380.15,309.83 1380.7,295.79 1381.24,282.12 1381.78,269.54 1382.32,258.67 1382.86,250.02 1383.4,243.89 1383.94,249.93 1384.48,258.45 1385.02,269.14 1385.56,281.53 1386.1,295 1386.65,308.83 1387.19,322.29 1387.73,334.68 1388.27,345.37 1388.81,353.9 1389.35,359.94 1389.89,353.97 1390.43,345.56 1390.97,335 1391.51,322.76 1392.05,309.47 1392.6,295.81 1393.14,282.52 1393.68,270.29 1394.22,259.73 1394.76,251.31 1395.3,245.35 1395.84,251.33 1396.38,259.78 1396.92,270.37 1397.46,282.65 1398,295.99 1398.55,309.69 1399.09,323.03 1399.63,335.31 1400.17,345.91 1400.71,354.35 1401.25,360.34 1401.79,354.42 1402.33,346.07 1402.87,335.58 1403.41,323.44 1403.95,310.25 1404.5,296.69 1405.04,283.5 1405.58,271.36 1406.12,260.88 1406.66,252.53 1407.2,246.61 1407.74,252.71 1408.28,261.33 1408.82,272.14 1409.36,284.66 1409.9,298.27 1410.45,312.25 1410.99,325.86 1411.53,338.38 1412.07,349.2 1412.61,357.81 1413.15,363.92 1413.69,357.66 1414.23,348.84 1414.77,337.77 1415.31,324.94 1415.85,311 1416.4,296.68 1416.94,282.74 1417.48,269.91 1418.02,258.84 1418.56,250.02 1419.1,243.76 1419.64,249.86 1420.18,258.45 1420.72,269.25 1421.26,281.75 1421.8,295.33 1422.35,309.29 1422.89,322.87 1423.43,335.37 1423.97,346.16 1424.51,354.76 1425.05,360.85 1425.59,354.9 1426.13,346.51 1426.67,335.97 1427.21,323.77 1427.75,310.5 1428.3,296.88 1428.84,283.62 1429.38,271.41 1429.92,260.87 1430.46,252.48 1431,246.53 1431.54,252.58 1432.08,261.13 1432.62,271.85 1433.16,284.27 1433.7,297.77 1434.25,311.63 1434.79,325.13 1435.33,337.55 1435.87,348.27 1436.41,356.81 1436.95,362.87 1437.49,356.81 1438.03,348.27 1438.57,337.54 1439.11,325.11 1439.65,311.61 1440.2,297.74 1440.74,284.24 1441.28,271.82 1441.82,261.09 1442.36,252.54 1442.9,246.49 1443.44,252.46 1443.98,260.89 1444.52,271.46 1445.06,283.72 1445.6,297.03 1446.15,310.71 1446.69,324.02 1447.23,336.28 1447.77,346.85 1448.31,355.28 1448.85,361.25 1449.39,355.12 1449.93,346.47 1450.47,335.6 1451.01,323.02 1451.55,309.35 1452.1,295.3 1452.64,281.63 1453.18,269.05 1453.72,258.19 1454.26,249.54 1454.8,243.4 1455.34,249.52 1455.88,258.15 1456.42,268.99 1456.96,281.54 1457.5,295.18 1458.05,309.2 1458.59,322.84 1459.13,335.39 1459.67,346.23 1460.21,354.86 1460.75,360.98 1461.29,355.01 1461.83,346.6 1462.37,336.03 1462.91,323.79 1463.45,310.49 1464,296.83 1464.54,283.54 1465.08,271.3 1465.62,260.73 1466.16,252.32 1466.7,246.35 1467.24,252.31 1467.78,260.72 1468.32,271.28 1468.86,283.5 1469.4,296.79 1469.95,310.44 1470.49,323.73 1471.03,335.95 1471.57,346.51 1472.11,354.92 1472.65,360.88 1473.19,354.81 1473.73,346.25 1474.27,335.51 1474.81,323.06 1475.35,309.54 1475.9,295.64 1476.44,282.12 1476.98,269.67 1477.52,258.92 1478.06,250.36 1478.6,244.3 1479.14,250.41 1479.68,259.03 1480.22,269.85 1480.76,282.38 1481.3,296 1481.85,309.99 1482.39,323.61 1482.93,336.15 1483.47,346.97 1484.01,355.59 1484.55,361.7 1485.09,355.6 1485.63,347.01 1486.17,336.21 1486.71,323.71 1487.25,310.12 1487.8,296.16 1488.34,282.58 1488.88,270.08 1489.42,259.28 1489.96,250.68 1490.5,244.59 1491.04,250.68 1491.58,259.28 1492.12,270.07 1492.66,282.57 1493.2,296.15 1493.75,310.11 1494.29,323.69 1494.83,336.19 1495.37,346.98 1495.91,355.58 1496.45,361.68 1496.99,355.7 1497.53,347.26 1498.07,336.67 1498.61,324.41 1499.15,311.08 1499.7,297.39 1500.24,284.07 1500.78,271.8 1501.32,261.22 1501.86,252.78 1502.4,246.8 1502.94,252.71 1503.48,261.04 1504.02,271.5 1504.56,283.62 1505.1,296.79 1505.65,310.31 1506.19,323.48 1506.73,335.6 1507.27,346.06 1507.81,354.39 1508.35,360.3 1508.89,354.17 1509.43,345.54 1509.97,334.69 1510.51,322.13 1511.05,308.48 1511.6,294.46 1512.14,280.81 1512.68,268.25 1513.22,257.4 1513.76,248.76 1514.3,242.64 1514.84,248.99 1515.38,257.95 1515.92,269.19 1516.46,282.22 1517,296.37 1517.55,310.91 1518.09,325.07 1518.63,338.09 1519.17,349.34 1519.71,358.3 1520.25,364.65 1520.79,358.5 1521.33,349.83 1521.87,338.94 1522.41,326.33 1522.95,312.63 1523.5,298.55 1524.04,284.85 1524.58,272.24 1525.12,261.36 1525.66,252.69 1526.2,246.54 1526.74,253.07 1527.28,262.28 1527.82,273.84 1528.36,287.24 1528.9,301.79 1529.45,316.75 1529.99,331.3 1530.53,344.69 1531.07,356.26 1531.61,365.47 1532.15,372 1532.69,365.36 1533.23,356 1533.77,344.25 1534.31,330.64 1534.85,315.85 1535.4,300.65 1535.94,285.86 1536.48,272.24 1537.02,260.49 1537.56,251.13 1538.1,244.49 1538.64,250.75 1539.18,259.58 1539.72,270.66 1540.26,283.49 1540.8,297.44 1541.35,311.77 1541.89,325.72 1542.43,338.55 1542.97,349.63 1543.51,358.46 1544.05,364.72 1544.59,358.57 1545.13,349.91 1545.67,339.03 1546.21,326.42 1546.75,312.73 1547.3,298.66 1547.84,284.97 1548.38,272.36 1548.92,261.48 1549.46,252.82 1550,246.67 1550,248.34 1550,250" fill="none" stroke="#800080" stroke-width="2.4" stroke-linejoin="round"/>
<rect x="220" y="540" width="443.5" height="2.4" fill="#000080"/>
<rect x="843" y="540" width="707.5" height="2.4" fill="#000080"/>
<path d="M136.5 541.5 L136.5 524 L137 522 L137.7 513.45 L138.4 506.84 L139.1 501.19 L139.8 496.45 L140.5 492.68 L141.2 489.93 L141.9 488.26 L142.6 487.7 L143.3 488.15 L144 489.48 L144.7 491.66 L145.4 494.67 L146.1 498.44 L146.8 502.93 L147.5 508.19 L148.2 515 L149.02 508.19 L149.85 502.93 L150.68 498.44 L151.5 494.67 L152.32 491.66 L153.15 489.48 L153.98 488.15 L154.8 487.7 L155.5 488.06 L156.2 489.12 L156.9 490.87 L157.6 493.26 L158.3 496.27 L159 499.86 L159.7 504.07 L160.4 509.5 L161.22 503.27 L162.05 498.45 L162.88 494.33 L163.7 490.88 L164.53 488.13 L165.35 486.13 L166.18 484.91 L167 484.5 L167.66 484.87 L168.32 485.96 L168.99 487.77 L169.65 490.24 L170.31 493.35 L170.98 497.06 L171.64 501.39 L172.3 507 L173.12 500.17 L173.95 494.89 L174.78 490.37 L175.6 486.59 L176.43 483.58 L177.25 481.38 L178.08 480.05 L178.9 479.6 L179.54 480.03 L180.18 481.32 L180.81 483.43 L181.45 486.34 L182.09 489.98 L182.72 494.33 L183.36 499.42 L184 506 L184.88 497.92 L185.75 491.68 L186.62 486.34 L187.5 481.87 L188.38 478.3 L189.25 475.71 L190.12 474.13 L191 473.6 L191.62 474.15 L192.25 475.77 L192.88 478.45 L193.5 482.12 L194.12 486.73 L194.75 492.24 L195.38 498.67 L196 507 L196.85 496.43 L197.7 488.26 L198.55 481.27 L199.4 475.42 L200.25 470.76 L201.1 467.36 L201.95 465.29 L202.8 464.6 L203.43 465.34 L204.05 467.55 L204.68 471.19 L205.3 476.18 L205.93 482.45 L206.55 489.93 L207.18 498.68 L207.8 510 L208.7 494.92 L209.6 483.26 L210.5 473.29 L211.4 464.94 L212.3 458.28 L213.2 453.44 L214.1 450.49 L215 449.5 L215.65 450.62 L216.3 453.96 L216.95 459.45 L217.6 466.98 L218.25 476.44 L218.9 487.72 L219.55 500.92 L220.4 518 L220.6 541.5zM222.7 541.5 L223.7 476.54 L224.7 442.3 L225.8 423.4 L228.4 423.4 L229 439.93 L230.2 470.64 L231.3 500.16 L232 523.78 L232.1 541.5zM234.77 541.5 L235.67 474.92 L236.59 442.54 L237.66 424 L240.44 424 L241.04 440.06 L242.25 470.22 L243.33 498.94 L243.98 523.22 L244.07 541.5zM246.84 541.5 L247.64 471.5 L248.49 440.17 L249.52 421.5 L252.48 421.5 L253.08 437.5 L254.3 467.9 L255.36 496.57 L255.97 522.17 L256.04 541.5zM258.92 541.5 L259.62 468.84 L260.38 438.97 L261.38 420.4 L264.52 420.4 L265.12 436.14 L266.35 466.42 L267.38 494.67 L267.95 521.32 L268.02 541.5zM270.99 541.5 L271.59 465.65 L272.28 437.09 L273.24 418.5 L276.56 418.5 L277.16 434.08 L278.4 464.42 L279.41 492.44 L279.93 520.32 L279.99 541.5zM283.06 541.5 L283.56 463.28 L284.17 436.39 L285.11 418 L288.59 418 L289.19 433.23 L290.45 463.28 L291.44 490.73 L291.92 519.54 L291.96 541.5zM295.13 541.5 L295.53 460.77 L296.07 435.52 L296.97 417.3 L300.63 417.3 L301.23 432.2 L302.5 462.01 L303.47 488.92 L303.9 518.73 L303.93 541.5zM307.21 541.5 L307.51 458.7 L307.96 435.24 L308.83 417.3 L312.67 417.3 L313.27 431.79 L314.55 461.18 L315.49 487.4 L315.88 518.04 L315.91 541.5zM319.28 541.5 L319.48 456.63 L319.86 434.96 L320.69 417.3 L324.71 417.3 L325.31 431.38 L326.6 460.36 L327.52 485.89 L327.87 517.35 L327.88 541.5zM331.35 541.5 L331.45 454.56 L331.75 434.69 L332.55 417.3 L336.75 417.3 L337.35 430.96 L338.65 459.53 L339.55 484.37 L339.85 516.66 L339.85 541.5zM343.3 541.5 L343.4 454.56 L343.7 434.69 L344.5 417.3 L348.7 417.3 L349.3 430.96 L350.6 459.53 L351.5 484.37 L351.8 516.66 L351.8 541.5zM355.25 541.5 L355.35 454.56 L355.65 434.69 L356.45 417.3 L360.65 417.3 L361.25 430.96 L362.55 459.53 L363.45 484.37 L363.75 516.66 L363.75 541.5zM367.2 541.5 L367.3 454.56 L367.6 434.69 L368.4 417.3 L372.6 417.3 L373.2 430.96 L374.5 459.53 L375.4 484.37 L375.7 516.66 L375.7 541.5zM379.15 541.5 L379.25 454.56 L379.55 434.69 L380.35 417.3 L384.55 417.3 L385.15 430.96 L386.45 459.53 L387.35 484.37 L387.65 516.66 L387.65 541.5zM391.1 541.5 L391.2 454.56 L391.5 434.69 L392.3 417.3 L396.5 417.3 L397.1 430.96 L398.4 459.53 L399.3 484.37 L399.6 516.66 L399.6 541.5zM403.05 541.5 L403.15 454.56 L403.45 434.69 L404.25 417.3 L408.45 417.3 L409.05 430.96 L410.35 459.53 L411.25 484.37 L411.55 516.66 L411.55 541.5zM415 541.5 L415.1 454.56 L415.4 434.69 L416.2 417.3 L420.4 417.3 L421 430.96 L422.3 459.53 L423.2 484.37 L423.5 516.66 L423.5 541.5zM426.95 541.5 L427.05 454.56 L427.35 434.69 L428.15 417.3 L432.35 417.3 L432.95 430.96 L434.25 459.53 L435.15 484.37 L435.45 516.66 L435.45 541.5zM438.9 541.5 L439 454.56 L439.3 434.69 L440.1 417.3 L444.3 417.3 L444.9 430.96 L446.2 459.53 L447.1 484.37 L447.4 516.66 L447.4 541.5zM450.85 541.5 L450.95 454.56 L451.25 434.69 L452.05 417.3 L456.25 417.3 L456.85 430.96 L458.15 459.53 L459.05 484.37 L459.35 516.66 L459.35 541.5zM462.8 541.5 L462.9 454.56 L463.2 434.69 L464 417.3 L468.2 417.3 L468.8 430.96 L470.1 459.53 L471 484.37 L471.3 516.66 L471.3 541.5zM474.75 541.5 L474.85 454.56 L475.15 434.69 L475.95 417.3 L480.15 417.3 L480.75 430.96 L482.05 459.53 L482.95 484.37 L483.25 516.66 L483.25 541.5zM486.7 541.5 L486.8 454.56 L487.1 434.69 L487.9 417.3 L492.1 417.3 L492.7 430.96 L494 459.53 L494.9 484.37 L495.2 516.66 L495.2 541.5zM498.65 541.5 L498.75 454.56 L499.05 434.69 L499.85 417.3 L504.05 417.3 L504.65 430.96 L505.95 459.53 L506.85 484.37 L507.15 516.66 L507.15 541.5zM510.6 541.5 L510.7 454.56 L511 434.69 L511.8 417.3 L516 417.3 L516.6 430.96 L517.9 459.53 L518.8 484.37 L519.1 516.66 L519.1 541.5zM522.55 541.5 L522.65 454.56 L522.95 434.69 L523.75 417.3 L527.95 417.3 L528.55 430.96 L529.85 459.53 L530.75 484.37 L531.05 516.66 L531.05 541.5zM534.5 541.5 L534.6 454.56 L534.9 434.69 L535.7 417.3 L539.9 417.3 L540.5 430.96 L541.8 459.53 L542.7 484.37 L543 516.66 L543 541.5zM546.45 541.5 L546.55 454.56 L546.85 434.69 L547.65 417.3 L551.85 417.3 L552.45 430.96 L553.75 459.53 L554.65 484.37 L554.95 516.66 L554.95 541.5zM558.4 541.5 L558.5 454.56 L558.8 434.69 L559.6 417.3 L563.8 417.3 L564.4 430.96 L565.7 459.53 L566.6 484.37 L566.9 516.66 L566.9 541.5zM570.35 541.5 L570.45 454.56 L570.75 434.69 L571.55 417.3 L575.75 417.3 L576.35 430.96 L577.65 459.53 L578.55 484.37 L578.85 516.66 L578.85 541.5zM582.3 541.5 L582.4 454.56 L582.7 434.69 L583.5 417.3 L587.7 417.3 L588.3 430.96 L589.6 459.53 L590.5 484.37 L590.8 516.66 L590.8 541.5zM594.25 541.5 L594.35 454.56 L594.65 434.69 L595.45 417.3 L599.65 417.3 L600.25 430.96 L601.55 459.53 L602.45 484.37 L602.75 516.66 L602.75 541.5zM606.2 541.5 L606.3 454.56 L606.6 434.69 L607.4 417.3 L611.6 417.3 L612.2 430.96 L613.5 459.53 L614.4 484.37 L614.7 516.66 L614.7 541.5zM618.15 541.5 L618.25 454.56 L618.55 434.69 L619.35 417.3 L623.55 417.3 L624.15 430.96 L625.45 459.53 L626.35 484.37 L626.65 516.66 L626.65 541.5zM630.1 541.5 L630.2 454.56 L630.5 434.69 L631.3 417.3 L635.5 417.3 L636.1 430.96 L637.4 459.53 L638.3 484.37 L638.6 516.66 L638.6 541.5zM642.05 541.5 L642.15 454.56 L642.45 434.69 L643.25 417.3 L647.45 417.3 L648.05 430.96 L649.35 459.53 L650.25 484.37 L650.55 516.66 L650.55 541.5zM654 541.5 L654.1 457.3 L655.1 417.3 L659.5 417.3 L661.5 457.3 L662.5 497.3 L662.7 544.5 L661.7 544.5zM845.6 541.5 L846.4 470 L847.8 430 L849 417.8 L852.9 417.5 L853.5 431.14 L854.8 459.66 L855.7 484.46 L856 516.7 L856 541.5zM859.4 541.5 L859.5 454.7 L859.8 434.86 L860.6 417.5 L864.8 417.5 L865.4 431.14 L866.7 459.66 L867.6 484.46 L867.9 516.7 L867.9 541.5zM871.3 541.5 L871.4 454.7 L871.7 434.86 L872.5 417.5 L876.7 417.5 L877.3 431.14 L878.6 459.66 L879.5 484.46 L879.8 516.7 L879.8 541.5zM883.2 541.5 L883.3 454.7 L883.6 434.86 L884.4 417.5 L888.6 417.5 L889.2 431.14 L890.5 459.66 L891.4 484.46 L891.7 516.7 L891.7 541.5zM895.1 541.5 L895.2 454.7 L895.5 434.86 L896.3 417.5 L900.5 417.5 L901.1 431.14 L902.4 459.66 L903.3 484.46 L903.6 516.7 L903.6 541.5zM907 541.5 L907.1 454.7 L907.4 434.86 L908.2 417.5 L912.4 417.5 L913 431.14 L914.3 459.66 L915.2 484.46 L915.5 516.7 L915.5 541.5zM918.9 541.5 L919 454.7 L919.3 434.86 L920.1 417.5 L924.3 417.5 L924.9 431.14 L926.2 459.66 L927.1 484.46 L927.4 516.7 L927.4 541.5zM930.8 541.5 L930.9 454.7 L931.2 434.86 L932 417.5 L936.2 417.5 L936.8 431.14 L938.1 459.66 L939 484.46 L939.3 516.7 L939.3 541.5zM942.7 541.5 L942.8 454.7 L943.1 434.86 L943.9 417.5 L948.1 417.5 L948.7 431.14 L950 459.66 L950.9 484.46 L951.2 516.7 L951.2 541.5zM954.6 541.5 L954.7 454.7 L955 434.86 L955.8 417.5 L960 417.5 L960.6 431.14 L961.9 459.66 L962.8 484.46 L963.1 516.7 L963.1 541.5zM966.5 541.5 L966.6 454.7 L966.9 434.86 L967.7 417.5 L971.9 417.5 L972.5 431.14 L973.8 459.66 L974.7 484.46 L975 516.7 L975 541.5zM978.4 541.5 L978.5 454.7 L978.8 434.86 L979.6 417.5 L983.8 417.5 L984.4 431.14 L985.7 459.66 L986.6 484.46 L986.9 516.7 L986.9 541.5zM990.3 541.5 L990.4 454.7 L990.7 434.86 L991.5 417.5 L995.7 417.5 L996.3 431.14 L997.6 459.66 L998.5 484.46 L998.8 516.7 L998.8 541.5zM1002.2 541.5 L1002.3 454.7 L1002.6 434.86 L1003.4 417.5 L1007.6 417.5 L1008.2 431.14 L1009.5 459.66 L1010.4 484.46 L1010.7 516.7 L1010.7 541.5zM1014.1 541.5 L1014.2 454.7 L1014.5 434.86 L1015.3 417.5 L1019.5 417.5 L1020.1 431.14 L1021.4 459.66 L1022.3 484.46 L1022.6 516.7 L1022.6 541.5zM1026 541.5 L1026.1 454.7 L1026.4 434.86 L1027.2 417.5 L1031.4 417.5 L1032 431.14 L1033.3 459.66 L1034.2 484.46 L1034.5 516.7 L1034.5 541.5zM1037.9 541.5 L1038 454.7 L1038.3 434.86 L1039.1 417.5 L1043.3 417.5 L1043.9 431.14 L1045.2 459.66 L1046.1 484.46 L1046.4 516.7 L1046.4 541.5zM1049.8 541.5 L1049.9 454.7 L1050.2 434.86 L1051 417.5 L1055.2 417.5 L1055.8 431.14 L1057.1 459.66 L1058 484.46 L1058.3 516.7 L1058.3 541.5zM1061.7 541.5 L1061.8 454.7 L1062.1 434.86 L1062.9 417.5 L1067.1 417.5 L1067.7 431.14 L1069 459.66 L1069.9 484.46 L1070.2 516.7 L1070.2 541.5zM1073.6 541.5 L1073.7 454.7 L1074 434.86 L1074.8 417.5 L1079 417.5 L1079.6 431.14 L1080.9 459.66 L1081.8 484.46 L1082.1 516.7 L1082.1 541.5zM1085.5 541.5 L1085.6 454.7 L1085.9 434.86 L1086.7 417.5 L1090.9 417.5 L1091.5 431.14 L1092.8 459.66 L1093.7 484.46 L1094 516.7 L1094 541.5zM1097.4 541.5 L1097.5 454.7 L1097.8 434.86 L1098.6 417.5 L1102.8 417.5 L1103.4 431.14 L1104.7 459.66 L1105.6 484.46 L1105.9 516.7 L1105.9 541.5zM1109.3 541.5 L1109.4 454.7 L1109.7 434.86 L1110.5 417.5 L1114.7 417.5 L1115.3 431.14 L1116.6 459.66 L1117.5 484.46 L1117.8 516.7 L1117.8 541.5zM1121.2 541.5 L1121.3 454.7 L1121.6 434.86 L1122.4 417.5 L1126.6 417.5 L1127.2 431.14 L1128.5 459.66 L1129.4 484.46 L1129.7 516.7 L1129.7 541.5zM1133.1 541.5 L1133.2 454.7 L1133.5 434.86 L1134.3 417.5 L1138.5 417.5 L1139.1 431.14 L1140.4 459.66 L1141.3 484.46 L1141.6 516.7 L1141.6 541.5zM1145 541.5 L1145.1 454.7 L1145.4 434.86 L1146.2 417.5 L1150.4 417.5 L1151 431.14 L1152.3 459.66 L1153.2 484.46 L1153.5 516.7 L1153.5 541.5zM1156.9 541.5 L1157 454.7 L1157.3 434.86 L1158.1 417.5 L1162.3 417.5 L1162.9 431.14 L1164.2 459.66 L1165.1 484.46 L1165.4 516.7 L1165.4 541.5zM1168.8 541.5 L1168.9 454.7 L1169.2 434.86 L1170 417.5 L1174.2 417.5 L1174.8 431.14 L1176.1 459.66 L1177 484.46 L1177.3 516.7 L1177.3 541.5zM1180.7 541.5 L1180.8 454.7 L1181.1 434.86 L1181.9 417.5 L1186.1 417.5 L1186.7 431.14 L1188 459.66 L1188.9 484.46 L1189.2 516.7 L1189.2 541.5zM1192.6 541.5 L1192.7 454.7 L1193 434.86 L1193.8 417.5 L1198 417.5 L1198.6 431.14 L1199.9 459.66 L1200.8 484.46 L1201.1 516.7 L1201.1 541.5zM1204.5 541.5 L1204.6 454.7 L1204.9 434.86 L1205.7 417.5 L1209.9 417.5 L1210.5 431.14 L1211.8 459.66 L1212.7 484.46 L1213 516.7 L1213 541.5zM1216.4 541.5 L1216.5 454.7 L1216.8 434.86 L1217.6 417.5 L1221.8 417.5 L1222.4 431.14 L1223.7 459.66 L1224.6 484.46 L1224.9 516.7 L1224.9 541.5zM1228.3 541.5 L1228.4 454.7 L1228.7 434.86 L1229.5 417.5 L1233.7 417.5 L1234.3 431.14 L1235.6 459.66 L1236.5 484.46 L1236.8 516.7 L1236.8 541.5zM1240.2 541.5 L1240.3 454.7 L1240.6 434.86 L1241.4 417.5 L1245.6 417.5 L1246.2 431.14 L1247.5 459.66 L1248.4 484.46 L1248.7 516.7 L1248.7 541.5zM1252.1 541.5 L1252.2 454.7 L1252.5 434.86 L1253.3 417.5 L1257.5 417.5 L1258.1 431.14 L1259.4 459.66 L1260.3 484.46 L1260.6 516.7 L1260.6 541.5zM1264 541.5 L1264.1 454.7 L1264.4 434.86 L1265.2 417.5 L1269.4 417.5 L1270 431.14 L1271.3 459.66 L1272.2 484.46 L1272.5 516.7 L1272.5 541.5zM1275.9 541.5 L1276 454.7 L1276.3 434.86 L1277.1 417.5 L1281.3 417.5 L1281.9 431.14 L1283.2 459.66 L1284.1 484.46 L1284.4 516.7 L1284.4 541.5zM1287.8 541.5 L1287.9 454.7 L1288.2 434.86 L1289 417.5 L1293.2 417.5 L1293.8 431.14 L1295.1 459.66 L1296 484.46 L1296.3 516.7 L1296.3 541.5zM1299.7 541.5 L1299.8 454.7 L1300.1 434.86 L1300.9 417.5 L1305.1 417.5 L1305.7 431.14 L1307 459.66 L1307.9 484.46 L1308.2 516.7 L1308.2 541.5zM1311.6 541.5 L1311.7 454.7 L1312 434.86 L1312.8 417.5 L1317 417.5 L1317.6 431.14 L1318.9 459.66 L1319.8 484.46 L1320.1 516.7 L1320.1 541.5zM1323.5 541.5 L1323.6 454.7 L1323.9 434.86 L1324.7 417.5 L1328.9 417.5 L1329.5 431.14 L1330.8 459.66 L1331.7 484.46 L1332 516.7 L1332 541.5zM1335.4 541.5 L1335.5 454.7 L1335.8 434.86 L1336.6 417.5 L1340.8 417.5 L1341.4 431.14 L1342.7 459.66 L1343.6 484.46 L1343.9 516.7 L1343.9 541.5zM1347.3 541.5 L1347.4 454.7 L1347.7 434.86 L1348.5 417.5 L1352.7 417.5 L1353.3 431.14 L1354.6 459.66 L1355.5 484.46 L1355.8 516.7 L1355.8 541.5zM1359.2 541.5 L1359.3 454.7 L1359.6 434.86 L1360.4 417.5 L1364.6 417.5 L1365.2 431.14 L1366.5 459.66 L1367.4 484.46 L1367.7 516.7 L1367.7 541.5zM1371.1 541.5 L1371.2 454.7 L1371.5 434.86 L1372.3 417.5 L1376.5 417.5 L1377.1 431.14 L1378.4 459.66 L1379.3 484.46 L1379.6 516.7 L1379.6 541.5zM1383 541.5 L1383.1 454.7 L1383.4 434.86 L1384.2 417.5 L1388.4 417.5 L1389 431.14 L1390.3 459.66 L1391.2 484.46 L1391.5 516.7 L1391.5 541.5zM1394.9 541.5 L1395 454.7 L1395.3 434.86 L1396.1 417.5 L1400.3 417.5 L1400.9 431.14 L1402.2 459.66 L1403.1 484.46 L1403.4 516.7 L1403.4 541.5zM1406.8 541.5 L1406.9 454.7 L1407.2 434.86 L1408 417.5 L1412.2 417.5 L1412.8 431.14 L1414.1 459.66 L1415 484.46 L1415.3 516.7 L1415.3 541.5zM1418.7 541.5 L1418.8 454.7 L1419.1 434.86 L1419.9 417.5 L1424.1 417.5 L1424.7 431.14 L1426 459.66 L1426.9 484.46 L1427.2 516.7 L1427.2 541.5zM1430.6 541.5 L1430.7 454.7 L1431 434.86 L1431.8 417.5 L1436 417.5 L1436.6 431.14 L1437.9 459.66 L1438.8 484.46 L1439.1 516.7 L1439.1 541.5zM1442.5 541.5 L1442.6 454.7 L1442.9 434.86 L1443.7 417.5 L1447.9 417.5 L1448.5 431.14 L1449.8 459.66 L1450.7 484.46 L1451 516.7 L1451 541.5zM1454.4 541.5 L1454.5 454.7 L1454.8 434.86 L1455.6 417.5 L1459.8 417.5 L1460.4 431.14 L1461.7 459.66 L1462.6 484.46 L1462.9 516.7 L1462.9 541.5zM1466.3 541.5 L1466.4 454.7 L1466.7 434.86 L1467.5 417.5 L1471.7 417.5 L1472.3 431.14 L1473.6 459.66 L1474.5 484.46 L1474.8 516.7 L1474.8 541.5zM1478.2 541.5 L1478.3 454.7 L1478.6 434.86 L1479.4 417.5 L1483.6 417.5 L1484.2 431.14 L1485.5 459.66 L1486.4 484.46 L1486.7 516.7 L1486.7 541.5zM1490.1 541.5 L1490.2 454.7 L1490.5 434.86 L1491.3 417.5 L1495.5 417.5 L1496.1 431.14 L1497.4 459.66 L1498.3 484.46 L1498.6 516.7 L1498.6 541.5zM1502 541.5 L1502.1 454.7 L1502.4 434.86 L1503.2 417.5 L1507.4 417.5 L1508 431.14 L1509.3 459.66 L1510.2 484.46 L1510.5 516.7 L1510.5 541.5zM1513.9 541.5 L1514 454.7 L1514.3 434.86 L1515.1 417.5 L1519.3 417.5 L1519.9 431.14 L1521.2 459.66 L1522.1 484.46 L1522.4 516.7 L1522.4 541.5zM1525.8 541.5 L1525.9 454.7 L1526.2 434.86 L1527 417.5 L1531.2 417.5 L1531.8 431.14 L1533.1 459.66 L1534 484.46 L1534.3 516.7 L1534.3 541.5zM1537.7 541.5 L1537.8 454.7 L1538.1 434.86 L1538.9 417.5 L1543.1 417.5 L1543.7 431.14 L1545 459.66 L1545.9 484.46 L1546.2 516.7 L1546.2 541.5zM1549.6 541.5 L1549.7 454.7 L1550 434.86 L1550.5 417.5 L1550.5 417.5 L1550.5 431.14 L1550.5 459.66 L1550.5 484.46 L1550.5 516.7 L1550.5 541.5z" fill="#000080"/>
<polyline points="125,540.5 125.6,533 126.5,526 127.6,516 127.9,508 129.5,508.8 131.3,510 133.1,519.4 135,528.6 137.2,529.4" fill="none" stroke="#000080" stroke-width="2.2" stroke-linejoin="round"/>
<polyline points="662.8,544 663.2,537.06 663.7,537.36 664.2,536.43 664.7,534.34 665.2,531.22 665.7,527.3 666.2,522.83 666.7,518.11 667.2,513.47 667.7,509.21 668.2,505.63 668.7,502.96 669.2,501.39 669.7,501.02 670.2,501.88 670.7,503.91 671.2,506.97 671.7,510.85 672.2,515.3 672.7,520.01 673.2,524.66 673.7,528.95 674.2,532.58 674.7,535.31 675.2,536.95 675.7,537.39 676.2,536.6 676.7,534.64 677.2,531.64 677.7,527.8 678.2,523.38 678.7,518.68 679.2,514.01 679.7,509.69 680.2,506.02 680.7,503.23 681.2,501.52 681.7,501 682.2,501.72 682.7,503.61 683.2,506.55 683.7,510.35 684.2,514.74 684.7,519.44 685.2,524.12 685.7,528.46 686.2,532.19 686.7,535.03 687.2,536.81 687.7,537.4 688.2,536.76 688.7,534.94 689.2,532.05 689.7,528.3 690.2,523.93 690.7,519.25 691.2,514.56 691.7,510.18 692.2,506.41 692.7,503.51 693.2,501.66 693.7,501 694.2,501.57 694.7,503.32 695.2,506.15 695.7,509.85 696.2,514.19 696.7,518.87 697.2,523.57 697.7,527.97 698.2,531.78 698.7,534.74 699.2,536.66 699.7,537.39 700.2,536.9 700.7,535.22 701.2,532.45 701.7,528.79 702.2,524.48 702.7,519.82 703.2,515.11 703.7,510.68 704.2,506.83 704.7,503.81 705.2,501.82 705.7,501.02 706.2,501.43 706.7,503.05 707.2,505.76 707.7,509.37 708.2,513.65 708.7,518.3 709.2,523.01 709.7,527.47 710.2,531.36 710.7,534.44 711.2,536.49 711.7,537.37 712.2,537.03 712.7,535.48 713.2,532.83 713.7,529.27 714.2,525.02 714.7,520.38 715.2,515.67 715.7,511.19 716.2,507.25 716.7,504.12 717.2,502 717.7,501.05 718.2,501.32 718.7,502.8 719.2,505.38 719.7,508.9 720.2,513.11 720.7,517.73 721.2,522.45 721.7,526.96 722.2,530.94 722.7,534.12 723.2,536.3 723.7,537.33 724.2,537.13 724.7,535.72 725.2,533.2 725.7,529.74 726.2,525.56 726.7,520.95 727.2,516.23 727.7,511.7 728.2,507.68 728.7,504.44 729.2,502.2 729.7,501.1 730.2,501.22 730.7,502.56 731.2,505.02 731.7,508.43 732.2,512.58 732.7,517.17 733.2,521.89 733.7,526.44 734.2,530.49 734.7,533.79 735.2,536.1 735.7,537.27 736.2,537.22 736.7,535.96 737.2,533.56 737.7,530.19 738.2,526.09 738.7,521.52 739.2,516.79 739.7,512.22 740.2,508.13 740.7,504.78 741.2,502.41 741.7,501.17 742.2,501.14 742.7,502.34 743.2,504.67 743.7,507.98 744.2,512.05 744.7,516.6 745.2,521.33 745.7,525.91 746.2,530.04 746.7,533.44 747.2,535.88 747.7,537.19 748.2,537.29 748.7,536.17 749.2,533.9 749.7,530.64 750.2,526.61 750.7,522.08 751.2,517.35 751.7,512.75 752.2,508.59 752.7,505.14 753.2,502.64 753.7,501.25 754.2,501.08 754.7,502.13 755.2,504.33 755.7,507.54 756.2,511.53 756.7,516.04 757.2,520.76 757.7,525.38 758.2,529.58 758.7,533.08 759.2,535.64 759.7,537.1 760.2,537.34 760.7,536.37 761.2,534.23 761.7,531.08 762.2,527.13 762.7,522.64 763.2,517.92 763.7,513.29 764.2,509.05 764.7,505.5 765.2,502.88 765.7,501.36 766.2,501.04 766.7,501.94 767.2,504.01 767.7,507.11 768.2,511.02 768.7,515.48 769.2,520.2 769.7,524.84 770.2,529.11 770.7,532.71 771.2,535.39 771.7,536.99 772.2,537.38 772.7,536.55 773.2,534.54 773.7,531.5 774.2,527.64 774.7,523.2 775.2,518.49 775.7,513.83 776.2,509.53 776.7,505.89 777.2,503.14 777.7,501.48 778.2,501.01 778.7,501.77 779.2,503.71 779.7,506.69 780.2,510.51 780.7,514.93 781.2,519.63 781.7,524.3 782.2,528.63 782.7,532.32 783.2,535.12 783.7,536.86 784.2,537.4 784.7,536.71 785.2,534.84 785.7,531.92 786.2,528.14 786.7,523.75 787.2,519.06 787.7,514.38 788.2,510.02 788.7,506.28 789.2,503.41 789.7,501.61 790.2,501 790.7,501.61 791.2,503.41 791.7,506.28 792.2,510.02 792.7,514.38 793.2,519.06 793.7,523.75 794.2,528.14 794.7,531.92 795.2,534.84 795.7,536.71 796.2,537.4 796.7,536.86 797.2,535.12 797.7,532.32 798.2,528.63 798.7,524.3 799.2,519.63 799.7,514.93 800.2,510.51 800.7,506.69 801.2,503.71 801.7,501.77 802.2,501.01 802.7,501.48 803.2,503.14 803.7,505.89 804.2,509.53 804.7,513.83 805.2,518.49 805.7,523.2 806.2,527.64 806.7,531.5 807.2,534.54 807.7,536.55 808.2,537.38 808.7,536.99 809.2,535.39 809.7,532.71 810.2,529.11 810.7,524.84 811.2,520.2 811.7,515.48 812.2,511.02 812.7,507.11 813.2,504.01 813.7,501.94 814.2,501.04 814.7,501.36 815.2,502.88 815.7,505.5 816.2,509.05 816.7,513.29 817.2,517.92 817.7,522.64 818.2,527.13 818.7,531.08 819.2,534.23 819.7,536.37 820.2,537.34 820.7,537.1 821.2,535.64 821.7,533.08 822.2,529.58 822.7,525.38 823.2,520.76 823.7,516.04 824.2,511.53 824.7,507.54 825.2,504.33 825.7,502.13 826.2,501.08 826.7,501.25 827.2,502.64 827.7,505.14 828.2,508.59 828.7,512.75 829.2,517.35 829.7,522.08 830.2,526.61 830.7,530.64 831.2,533.9 831.7,536.17 832.2,537.29 832.7,537.19 833.2,535.88 833.7,533.44 834.2,530.04 834.7,525.91 835.2,521.33 835.7,516.6 836.2,512.05 836.7,507.98 837.2,504.67 837.7,502.34 838.2,501.14 838.7,501.17 839.2,502.41 839.7,504.78 840.2,508.13 840.7,512.22 841.2,516.79 841.7,521.52 842.2,526.09 843,538 843.3,541 846,541" fill="none" stroke="#000080" stroke-width="2.2" stroke-linejoin="round"/>
<rect x="91" y="670" width="1459" height="1" fill="#ff0000"/>
<rect x="91" y="705" width="1459" height="1" fill="#0000ff"/>
<polyline points="124.5,778.42 125.5,778.13 126.5,777.57 127.5,777.99 128.5,777.65 129.5,777.47 130.5,777.99 131.5,777.98 132.5,778.54 133.5,779.01 134.5,778.74 135.5,778.93 136.5,777.43 137.5,776.5 138.5,774.99 139.5,774.18 140.5,773.78 141.5,772.95 142.5,772.53 143.5,772.47 144.5,771.78 145.5,771 146.5,770.67 147.5,770.2 148.5,769.01 149.5,768.08 150.5,766.91 151.5,766.2 152.5,765.93 153.5,765.51 154.5,765.2 155.5,764.93 156.5,764.63 157.5,764.23 158.5,763.69 159.5,763 160.5,762.2 161.5,761.36 162.5,760.86 163.5,759.86 164.5,759 165.5,758.9 166.5,758.94 167.5,758.41 168.5,758.15 169.5,757.79 170.5,756.98 171.5,756.62 172.5,755.87 173.5,754.77 174.5,754.31 175.5,753.36 176.5,753.16 177.5,752.8 178.5,752.54 179.5,752.61 180.5,752.06 181.5,751.74 182.5,751.57 183.5,750.95 184.5,749.94 185.5,748.9 186.5,748.49 187.5,747.6 188.5,747.46 189.5,747.46 190.5,746.65 191.5,747.08 192.5,746.56 193.5,746.52 194.5,745.44 195.5,745.43 196.5,744.15 197.5,743.74 198.5,743.08 199.5,742.24 200.5,742.14 201.5,742.18 202.5,741.72 203.5,741.58 204.5,741.39 205.5,741.38 206.5,740.32 207.5,740.03 208.5,739.34 209.5,738.33 210.5,738.3 211.5,737.23 212.5,737.21 213.5,737.04 214.5,736.95 215.5,736.88 216.5,736.75 217.5,736.5 218.5,735.81 219.5,735.58 220.5,734.96 221.5,734.32 222.5,733.74 223.5,732.99 224.5,732.98 225.5,732.81 226.5,733.04 227.5,732.68 228.5,732.25 229.5,732 230.5,732.21 231.5,731.07 232.5,730.76 233.5,730.13 234.5,729.57 235.5,729.44 236.5,729.15 237.5,728.7 238.5,728.33 239.5,728.26 240.5,728.73 241.5,728.2 242.5,727.82 243.5,727.3 244.5,726.71 245.5,726.41 246.5,725.28 247.5,725.18 248.5,725.23 249.5,724.8 250.5,724.76 251.5,724.42 252.5,724.9 253.5,724.36 254.5,723.97 255.5,723.75 256.5,722.88 257.5,722.61 258.5,722.12 259.5,721.46 260.5,721.54 261.5,721.16 262.5,721.14 263.5,721.43 264.5,721.33 265.5,720.81 266.5,720.13 267.5,720.23 268.5,719.36 269.5,719.1 270.5,718.31 271.5,717.98 272.5,717.51 273.5,718.05 274.5,717.77 275.5,717.77 276.5,717.39 277.5,717.48 278.5,716.82 279.5,716.64 280.5,716.09 281.5,715.55 282.5,715.4 283.5,714.79 284.5,714.62 285.5,714.57 286.5,714.59 287.5,714.29 288.5,714.81 289.5,714.29 290.5,713.92 291.5,713.43 292.5,713.18 293.5,712.35 294.5,711.91 295.5,711.61 296.5,711.45 297.5,711.41 298.5,711.73 299.5,711.43 300.5,711.34 301.5,711.43 302.5,710.79 303.5,710.33 304.5,709.81 305.5,709.31 306.5,708.91 307.5,708.65 308.5,708.83 309.5,708.53 310.5,708.28 311.5,708.91 312.5,708.54 313.5,708.63 314.5,707.98 315.5,707.51 316.5,706.7 317.5,706.52 318.5,706.15 319.5,706.21 320.5,705.82 321.5,705.84 322.5,705.9 323.5,705.64 324.5,706.18 325.5,705.67 326.5,705.32 327.5,704.56 328.5,704.36 329.5,703.59 330.5,703.52 331.5,703.34 332.5,703.63 333.5,703.42 334.5,703.25 335.5,703.95 336.5,703.94 337.5,703.49 338.5,703.5 339.5,702.5 340.5,702.36 341.5,701.95 342.5,701.66 343.5,701.21 344.5,701.5 345.5,701.9 346.5,701.73 347.5,702.13 348.5,701.52 349.5,701.66 350.5,701.07 351.5,700.97 352.5,700.23 353.5,700.14 354.5,699.86 355.5,699.72 356.5,699.73 357.5,699.84 358.5,700.27 359.5,700.37 360.5,700.06 361.5,700.2 362.5,699.6 363.5,699.2 364.5,699.07 365.5,698.69 366.5,698.13 367.5,698.01 368.5,697.73 369.5,698.15 370.5,698 371.5,698.69 372.5,698.07 373.5,698.2 374.5,697.89 375.5,697.48 376.5,697.36 377.5,696.99 378.5,696.73 379.5,696.32 380.5,696.65 381.5,696.48 382.5,696.92 383.5,697.01 384.5,696.97 385.5,696.49 386.5,696.18 387.5,695.77 388.5,695.65 389.5,694.98 390.5,695.04 391.5,694.34 392.5,694.68 393.5,694.8 394.5,695.25 395.5,695.02 396.5,694.98 397.5,695.09 398.5,694.17 399.5,693.76 400.5,693.93 401.5,693.28 402.5,693.06 403.5,692.68 404.5,693.04 405.5,693.48 406.5,693.03 407.5,693.71 408.5,693.37 409.5,693.18 410.5,693.16 411.5,692.16 412.5,692.05 413.5,692.01 414.5,691.49 415.5,691.43 416.5,691.49 417.5,691.64 418.5,692.08 419.5,692.16 420.5,691.51 421.5,691.31 422.5,691.28 423.5,690.87 424.5,690.46 425.5,690.13 426.5,689.93 427.5,689.57 428.5,690.24 429.5,690.09 430.5,690.24 431.5,690.31 432.5,689.94 433.5,689.73 434.5,689.7 435.5,689.59 436.5,688.58 437.5,688.56 438.5,688.06 439.5,688.62 440.5,688.7 441.5,688.85 442.5,688.99 443.5,689.05 444.5,688.98 445.5,688.46 446.5,688.12 447.5,688 448.5,687 449.5,686.98 450.5,686.5 451.5,687.07 452.5,686.85 453.5,687.3 454.5,687.14 455.5,687.2 456.5,687.11 457.5,687.18 458.5,686.83 459.5,686.12 460.5,685.72 461.5,685.71 462.5,684.94 463.5,684.91 464.5,685.31 465.5,685.46 466.5,685.3 467.5,685.34 468.5,685.25 469.5,685.31 470.5,685.25 471.5,684.24 472.5,684.44 473.5,684.14 474.5,683.38 475.5,683.36 476.5,683.47 477.5,683.96 478.5,683.82 479.5,684.18 480.5,684.11 481.5,684.19 482.5,683.55 483.5,683.17 484.5,682.81 485.5,682.84 486.5,682.42 487.5,682.14 488.5,682.58 489.5,682.46 490.5,682.62 491.5,683.28 492.5,682.59 493.5,682.66 494.5,682.02 495.5,681.63 496.5,681.88 497.5,681.32 498.5,680.91 499.5,681.54 500.5,681.08 501.5,681.57 502.5,682.02 503.5,682.07 504.5,681.67 505.5,681.43 506.5,680.79 507.5,680.7 508.5,680.35 509.5,680.1 510.5,680 511.5,680.04 512.5,680.19 513.5,680.08 514.5,680.52 515.5,680.56 516.5,680.46 517.5,680.21 518.5,679.86 519.5,679.47 520.5,679.42 521.5,679.19 522.5,678.8 523.5,678.85 524.5,678.7 525.5,679.19 526.5,679.03 527.5,679.06 528.5,678.94 529.5,678.68 530.5,678.93 531.5,678.24 532.5,678.2 533.5,677.97 534.5,677.89 535.5,677.65 536.5,677.51 537.5,677.7 538.5,678.43 539.5,677.85 540.5,678.03 541.5,678.06 542.5,677.4 543.5,676.71 544.5,676.38 545.5,676.76 546.5,676.39 547.5,676.46 548.5,676.92 549.5,676.81 550.5,676.93 551.5,676.94 552.5,676.79 553.5,676.5 554.5,676.42 555.5,676.02 556.5,675.38 557.5,675.15 558.5,675.08 559.5,675.44 560.5,675.29 561.5,675.15 562.5,675.56 563.5,675.54 564.5,675.68 565.5,674.78 566.5,674.4 567.5,674 568.5,673.66 569.5,673.75 570.5,673.68 571.5,673.75 572.5,673.6 573.5,674.37 574.5,674.47 575.5,674.14 576.5,673.67 577.5,673.96 578.5,673.57 579.5,672.87 580.5,672.84 581.5,672.34 582.5,672.58 583.5,672.66 584.5,672.22 585.5,672.68 586.5,672.77 587.5,672.74 588.5,672.25 589.5,672.25 590.5,672.19 591.5,671.83 592.5,671.25 593.5,671.09 594.5,670.78 595.5,671.2 596.5,671.39 597.5,671.58 598.5,671.7 599.5,671.39 600.5,671.83 601.5,670.95 602.5,670.89 603.5,670.53 604.5,670.25 605.5,669.8 606.5,669.8 607.5,670.52 608.5,670.72 609.5,670.61 610.5,670.42 611.5,670.7 612.5,670.53 613.5,670.54 614.5,669.88 615.5,669.52 616.5,668.95 617.5,669.11 618.5,668.82 619.5,669.25 620.5,669.15 621.5,669.94 622.5,669.74 623.5,669.71 624.5,669.53 625.5,669.53 626.5,668.87 627.5,668.51 628.5,667.93 629.5,668.39 630.5,668.1 631.5,668.23 632.5,668.42 633.5,668.6 634.5,668.38 635.5,668.93 636.5,668.43 637.5,667.81 638.5,668.03 639.5,667.08 640.5,667.41 641.5,667.28 642.5,667 643.5,666.84 644.5,667.03 645.5,667.5 646.5,667.28 647.5,667.22 648.5,667.31 649.5,667.29 650.5,666.31 651.5,666.56 652.5,665.71 653.5,665.89 654.5,665.62 655.5,666.37 656.5,666.57 657.5,666.14 658.5,666.22 659.5,666.45 660.5,666.54 661.5,666.22 662.5,665.6 663.5,665.08 664.5,664.95 665.5,665.27 666.5,665.43 667.5,666 668.5,666.02 669.5,666.3 670.5,666.18 671.5,666.52 672.5,666.16 673.5,666.04 674.5,666.17 675.5,665.74 676.5,666.01 677,666.6" fill="none" stroke="#808000" stroke-width="3"/>
<path d="M655 667h64v1h-64zM719 667h44v2h-44zM763 668h43v2h-43zM806 669h34v1h-34z" fill="#808000"/>
<polyline points="838.6,670.33 839.6,670.32 840.6,669.9 841.6,670.34 842.6,669.93 843.6,669.62 844.6,670.06 845.6,670.04 846.6,670.73 847.6,671.45 848.6,671.52 849.6,672.08 850.6,671.6 851.6,671.88 852.6,671.46 853.6,671.61 854.6,671.81 855.6,671.51 856.6,671.67 857.6,672.26 858.6,672.35 859.6,672.47 860.6,673.14 861.6,673.7 862.6,673.51 863.6,673.48 864.6,673.04 865.6,672.87 866.6,673.06 867.6,673.06 868.6,673.21 869.6,673.5 870.6,673.88 871.6,674.28 872.6,674.63 873.6,674.86 874.6,674.95 875.6,674.9 876.6,675.05 877.6,674.59 878.6,674.18 879.6,674.49 880.6,674.95 881.6,674.95 882.6,675.33 883.6,675.73 884.6,675.78 885.6,676.3 886.6,676.38 887.6,676.01 888.6,676.17 889.6,675.7 890.6,675.9 891.6,675.91 892.6,676.06 893.6,676.65 894.6,676.72 895.6,677.1 896.6,677.72 897.6,677.92 898.6,677.66 899.6,677.28 900.6,677.41 901.6,676.93 902.6,677.12 903.6,677.43 904.6,676.99 905.6,677.88 906.6,677.96 907.6,678.64 908.6,678.35 909.6,679.14 910.6,678.57 911.6,678.78 912.6,678.6 913.6,678.13 914.6,678.32 915.6,678.65 916.6,678.52 917.6,678.82 918.6,679.2 919.6,679.88 920.6,679.58 921.6,680.05 922.6,680.08 923.6,679.68 924.6,680.1 925.6,679.33 926.6,679.53 927.6,679.56 928.6,679.75 929.6,680.05 930.6,680.43 931.6,680.81 932.6,680.81 933.6,681.27 934.6,681.29 935.6,681.18 936.6,681 937.6,680.53 938.6,680.74 939.6,680.78 940.6,681.27 941.6,681.29 942.6,681.37 943.6,681.74 944.6,682.63 945.6,682.19 946.6,682.48 947.6,682.34 948.6,682.13 949.6,682.24 950.6,682.13 951.6,681.86 952.6,681.74 953.6,682.04 954.6,683 955.6,683.04 956.6,683.3 957.6,683.41 958.6,683.38 959.6,683.54 960.6,682.73 961.6,682.84 962.6,683.04 963.6,682.78 964.6,682.97 965.6,682.97 966.6,683.93 967.6,683.97 968.6,684.22 969.6,684.62 970.6,684.28 971.6,684.43 972.6,684.22 973.6,683.74 974.6,683.94 975.6,683.69 976.6,683.88 977.6,684.49 978.6,684.85 979.6,684.88 980.6,684.81 981.6,685.51 982.6,685.15 983.6,685.29 984.6,684.78 985.6,684.59 986.6,684.21 987.6,684.86 988.6,684.76 989.6,685.08 990.6,685.14 991.6,685.76 992.6,685.69 993.6,686.07 994.6,686.01 995.6,685.84 996.6,685.93 997.6,685.45 998.6,685.37 999.6,685.44 1000.6,685.68 1001.6,685.74 1002.6,686.75 1003.6,686.81 1004.6,687.07 1005.6,687.19 1006.6,687.47 1007.6,687.04 1008.6,686.87 1009.6,686.74 1010.6,686.72 1011.6,686.84 1012.6,687.41 1013.6,687.48 1014.6,687.88 1015.6,688.55 1016.6,688.5 1017.6,688.61 1018.6,688.57 1019.6,688.4 1020.6,688.19 1021.6,688.03 1022.6,688.28 1023.6,688.08 1024.6,688.02 1025.6,688.96 1026.6,689.02 1027.6,689.64 1028.6,689.55 1029.6,689.61 1030.6,689.23 1031.6,689.35 1032.6,689.14 1033.6,689.29 1034.6,688.95 1035.6,689.06 1036.6,689.3 1037.6,689.34 1038.6,690.31 1039.6,690.32 1040.6,690.52 1041.6,690.27 1042.6,690.48 1043.6,690 1044.6,690.09 1045.6,689.95 1046.6,690.22 1047.6,690.03 1048.6,689.99 1049.6,690.93 1050.6,691.3 1051.6,691.3 1052.6,691.79 1053.6,691.23 1054.6,691.43 1055.6,691.25 1056.6,691.04 1057.6,690.6 1058.6,690.86 1059.6,691.28 1060.6,691.23 1061.6,691.87 1062.6,691.62 1063.6,692.21 1064.6,692.08 1065.6,692.4 1066.6,691.98 1067.6,692.08 1068.6,691.87 1069.6,691.72 1070.6,691.7 1071.6,691.83 1072.6,692.39 1073.6,692.73 1074.6,692.78 1075.6,693.36 1076.6,693.22 1077.6,693.22 1078.6,693.4 1079.6,693.2 1080.6,692.69 1081.6,692.55 1082.6,692.24 1083.6,692.67 1084.6,692.64 1085.6,693.59 1086.6,693.33 1087.6,693.91 1088.6,694.05 1089.6,694.05 1090.6,694.22 1091.6,694.01 1092.6,693.81 1093.6,693.37 1094.6,693.67 1095.6,693.52 1096.6,694.1 1097.6,694.45 1098.6,694.79 1099.6,694.76 1100.6,694.9 1101.6,694.88 1102.6,695.04 1103.6,694.54 1104.6,694.63 1105.6,693.91 1106.6,694.22 1107.6,694.38 1108.6,694.96 1109.6,695.01 1110.6,695.35 1111.6,695.91 1112.6,695.44 1113.6,695.42 1114.6,695.87 1115.6,695.36 1116.6,695.16 1117.6,694.75 1118.6,695.07 1119.6,695.53 1120.6,695.23 1121.6,696.18 1122.6,696.22 1123.6,696.47 1124.6,696.88 1125.6,696.25 1126.6,696.4 1127.6,696.49 1128.6,695.99 1129.6,695.88 1130.6,695.91 1131.6,696.09 1132.6,696.69 1133.6,697.04 1134.6,696.77 1135.6,696.99 1136.6,697.37 1137.6,697.31 1138.6,697.13 1139.6,696.89 1140.6,696.68 1141.6,696.26 1142.6,696.88 1143.6,696.74 1144.6,697.03 1145.6,697.36 1146.6,697.37 1147.6,697.58 1148.6,697.96 1149.6,698.18 1150.6,697.4 1151.6,697.46 1152.6,696.95 1153.6,697.44 1154.6,697.47 1155.6,697.65 1156.6,697.93 1157.6,698.27 1158.6,698.57 1159.6,698.48 1160.6,698.54 1161.6,698.76 1162.6,697.96 1163.6,698.03 1164.6,697.52 1165.6,698.02 1166.6,697.76 1167.6,698.25 1168.6,698.24 1169.6,698.58 1170.6,698.87 1171.6,699.37 1172.6,699.42 1173.6,699.02 1174.6,698.82 1175.6,698.87 1176.6,698.06 1177.6,697.96 1178.6,698.3 1179.6,698.48 1180.6,698.47 1181.6,698.8 1182.6,699.08 1183.6,699.56 1184.6,699.89 1185.6,699.18 1186.6,699.57 1187.6,699.32 1188.6,698.52 1189.6,698.42 1190.6,698.47 1191.6,698.97 1192.6,698.96 1193.6,699.59 1194.6,699.87 1195.6,700.33 1196.6,700.06 1197.6,699.94 1198.6,699.72 1199.6,699.77 1200.6,699.27 1201.6,698.89 1202.6,699.25 1203.6,699.15 1204.6,699.45 1205.6,700.38 1206.6,700.05 1207.6,700.51 1208.6,700.22 1209.6,700.09 1210.6,700.47 1211.6,699.93 1212.6,699.44 1213.6,699.96 1214.6,699.44 1215.6,699.95 1216.6,700.55 1217.6,700.88 1218.6,700.85 1219.6,701 1220.6,700.7 1221.6,700.87 1222.6,700.64 1223.6,700.4 1224.6,700.22 1225.6,700.15 1226.6,700.24 1227.6,700.16 1228.6,700.77 1229.6,701.09 1230.6,701.35 1231.6,701.49 1232.6,701.48 1233.6,701.34 1234.6,701.41 1235.6,701.17 1236.6,700.7 1237.6,700.64 1238.6,700.44 1239.6,700.97 1240.6,700.98 1241.6,701.3 1242.6,701.56 1243.6,701.69 1244.6,702.27 1245.6,701.82 1246.6,701.89 1247.6,701.65 1248.6,701.48 1249.6,701.13 1250.6,700.93 1251.6,701.16 1252.6,702.07 1253.6,701.78 1254.6,702.31 1255.6,702.72 1256.6,702.39 1257.6,701.92 1258.6,701.67 1259.6,702.03 1260.6,701.55 1261.6,701.51 1262.6,701.92 1263.6,701.85 1264.6,702.16 1265.6,702.47 1266.6,702.7 1267.6,702.8 1268.6,703.05 1269.6,702.87 1270.6,702.33 1271.6,702.08 1272.6,701.92 1273.6,702.19 1274.6,702 1275.6,701.94 1276.6,702.56 1277.6,702.86 1278.6,703.38 1279.6,702.87 1280.6,702.81 1281.6,702.63 1282.6,702.38 1283.6,702.44 1284.6,702.28 1285.6,702.26 1286.6,702.09 1287.6,702.94 1288.6,703.25 1289.6,703.25 1290.6,703.16 1291.6,703.84 1292.6,703.76 1293.6,703.27 1294.6,703.32 1295.6,702.78 1296.6,702.93 1297.6,702.91 1298.6,702.45 1299.6,703 1300.6,703.31 1301.6,703.61 1302.6,703.51 1303.6,703.88 1304.6,704.1 1305.6,703.9 1306.6,703.34 1307.6,703.11 1308.6,702.66 1309.6,702.96 1310.6,703.1 1311.6,703.36 1312.6,703.68 1313.6,703.66 1314.6,704.46 1315.6,703.92 1316.6,704.13 1317.6,703.92 1318.6,703.66 1319.6,703.13 1320.6,703 1321.6,703.61 1322.6,703.76 1323.6,703.72 1324.6,703.74 1325.6,704.32 1326.6,704.51 1327.6,704.86 1328.6,704.46 1329.6,704.25 1330.6,703.7 1331.6,703.77 1332.6,703.35 1333.6,703.67 1334.6,703.53 1335.6,704.41 1336.6,704.42 1337.6,704.71 1338.6,704.89 1339.6,705.23 1340.6,704.82 1341.6,704.6 1342.6,704.05 1343.6,704.43 1344.6,704.02 1345.6,704.05 1346.6,704.22 1347.6,704.5 1348.6,704.52 1349.6,705.4 1350.6,705.27 1351.6,704.99 1352.6,705.48 1353.6,704.66 1354.6,705 1355.6,704.79 1356.6,704.38 1357.6,704.13 1358.6,704.31 1359.6,704.89 1360.6,704.91 1361.6,705.18 1362.6,705.64 1363.6,705.96 1364.6,705.24 1365.6,705.61 1366.6,704.74 1367.6,704.81 1368.6,704.4 1369.6,705.03 1370.6,705.21 1371.6,704.88 1372.6,705.18 1373.6,705.73 1374.6,706.16 1375.6,706.15 1376.6,705.7 1377.6,705.15 1378.6,704.88 1379.6,704.96 1380.6,704.86 1381.6,705.2 1382.6,705.09 1383.6,705.36 1384.6,705.36 1385.6,705.9 1386.6,705.73 1387.6,705.71 1388.6,705.85 1389.6,705.3 1390.6,705.33 1391.6,704.81 1392.6,705.32 1393.6,705.08 1394.6,705.57 1395.6,705.83 1396.6,706.11 1397.6,706.02 1398.6,705.81 1399.6,706.06 1400.6,706.17 1401.6,705.59 1402.6,705 1403.6,705.07 1404.6,704.96 1405.6,705.31 1406.6,704.8 1407.6,705.22 1408.6,705.65 1409.6,705.42 1410.6,705.36 1411.6,705.15 1412.6,704.49 1413.6,704.62 1414.6,703.84 1415.6,703.13 1416.6,703.45 1417.6,703.02 1418.6,703.02 1419.6,702.79 1420.6,703.48 1421.6,703.19 1422.6,702.78 1423.6,702.82 1424.6,702.42 1425.6,701.95 1426.6,701.18 1427.6,700.78 1428.6,701.11 1429.6,700.68 1430.6,700.99 1431.6,700.47 1432.6,700.85 1433.6,700.86 1434.6,700.43 1435.6,700.76 1436.6,700.06 1437.6,699.29 1438.6,698.82 1439.6,699.02 1440.6,698.46 1441.6,698.05 1442.6,698.66 1443.6,698.48 1444.6,698.61 1445.6,698.35 1446.6,698.56 1447.6,698.32 1448.6,697.96 1449.6,697.52 1450.6,697.4 1451.6,696.76 1452.6,696.55 1453.6,696.19 1454.6,696.26 1455.6,696.39 1456.6,696.51 1457.6,696.54 1458.6,696.44 1459.6,696.49 1460.6,696.12 1461.6,695.99 1462.6,695.27 1463.6,694.63 1464.6,694.74 1465.6,694.99 1466.6,694.76 1467.6,694.89 1468.6,695.01 1469.6,695.03 1470.6,694.92 1471.6,694.36 1472.6,694.29 1473.6,693.85 1474.6,693.13 1475.6,693.11 1476.6,692.92 1477.6,692.88 1478.6,693.26 1479.6,693.39 1480.6,693.5 1481.6,692.94 1482.6,693.15 1483.6,692.92 1484.6,692.87 1485.6,692.16 1486.6,692.08 1487.6,691.8 1488.6,691.36 1489.6,691.66 1490.6,691.18 1491.6,691.64 1492.6,692.08 1493.6,692.13 1494.6,691.43 1495.6,691.18 1496.6,691.13 1497.6,691.02 1498.6,690.05 1499.6,690.07 1500.6,689.64 1501.6,689.65 1502.6,690.07 1503.6,690.54 1504.6,690.38 1505.6,690.71 1506.6,690.6 1507.6,690.05 1508.6,689.68 1509.6,689.28 1510.6,688.91 1511.6,688.64 1512.6,688.52 1513.6,688.54 1514.6,688.67 1515.6,688.84 1516.6,688.97 1517.6,688.69 1518.6,689.17 1519.6,688.91 1520.6,688.26 1521.6,687.87 1522.6,687.52 1523.6,687.28 1524.6,687.49 1525.6,687.54 1526.6,687.09 1527.6,687.27 1528.6,687.71 1529.6,688.05 1530.6,687.33 1531.6,687.38 1532.6,687.02 1533.6,686.64 1534.6,686.6 1535.6,686.37 1536.6,685.68 1537.6,686.04 1538.6,686.5 1539.6,686.08 1540.6,686.22 1541.6,686.54 1542.6,686.72 1543.6,685.85 1544.6,685.79 1545.6,685.11 1546.6,685.07 1547.6,685.15 1548.6,685.08 1549.6,685.14 1550.5,685.1" fill="none" stroke="#808000" stroke-width="3"/>
<path d="M636 666h6v1h-6zM645 666h75v1h-75zM806 670h29v1h-29zM841 670h11v1h-11z" fill="#8080ff"/>
<rect x="124" y="22" width="1" height="175" fill="#000"/>
<rect x="93" y="22" width="31" height="1" fill="#000"/>
<rect x="117" y="39" width="7" height="1" fill="#000"/>
<rect x="117" y="57" width="7" height="1" fill="#000"/>
<rect x="117" y="74" width="7" height="1" fill="#000"/>
<rect x="117" y="92" width="7" height="1" fill="#000"/>
<rect x="109" y="109" width="15" height="1" fill="#000"/>
<rect x="117" y="126" width="7" height="1" fill="#000"/>
<rect x="117" y="144" width="7" height="1" fill="#000"/>
<rect x="117" y="161" width="7" height="1" fill="#000"/>
<rect x="117" y="179" width="7" height="1" fill="#000"/>
<rect x="93" y="196" width="31" height="1" fill="#000"/>
<rect x="124" y="216" width="1" height="175" fill="#000"/>
<rect x="93" y="216" width="31" height="1" fill="#000"/>
<rect x="117" y="233" width="7" height="1" fill="#000"/>
<rect x="117" y="251" width="7" height="1" fill="#000"/>
<rect x="117" y="268" width="7" height="1" fill="#000"/>
<rect x="117" y="286" width="7" height="1" fill="#000"/>
<rect x="109" y="303" width="15" height="1" fill="#000"/>
<rect x="117" y="320" width="7" height="1" fill="#000"/>
<rect x="117" y="338" width="7" height="1" fill="#000"/>
<rect x="117" y="355" width="7" height="1" fill="#000"/>
<rect x="117" y="373" width="7" height="1" fill="#000"/>
<rect x="93" y="390" width="31" height="1" fill="#000"/>
<rect x="124" y="409" width="1" height="177" fill="#000"/>
<rect x="93" y="409" width="31" height="1" fill="#000"/>
<rect x="117" y="427" width="7" height="1" fill="#000"/>
<rect x="117" y="444" width="7" height="1" fill="#000"/>
<rect x="117" y="462" width="7" height="1" fill="#000"/>
<rect x="117" y="479" width="7" height="1" fill="#000"/>
<rect x="109" y="497" width="15" height="1" fill="#000"/>
<rect x="117" y="515" width="7" height="1" fill="#000"/>
<rect x="117" y="532" width="7" height="1" fill="#000"/>
<rect x="117" y="550" width="7" height="1" fill="#000"/>
<rect x="117" y="567" width="7" height="1" fill="#000"/>
<rect x="93" y="585" width="31" height="1" fill="#000"/>
<rect x="124" y="603" width="1" height="177" fill="#000"/>
<rect x="93" y="603" width="31" height="1" fill="#000"/>
<rect x="117" y="621" width="7" height="1" fill="#000"/>
<rect x="117" y="638" width="7" height="1" fill="#000"/>
<rect x="117" y="656" width="7" height="1" fill="#000"/>
<rect x="117" y="673" width="7" height="1" fill="#000"/>
<rect x="109" y="691" width="15" height="1" fill="#000"/>
<rect x="117" y="709" width="7" height="1" fill="#000"/>
<rect x="117" y="726" width="7" height="1" fill="#000"/>
<rect x="117" y="744" width="7" height="1" fill="#000"/>
<rect x="117" y="761" width="7" height="1" fill="#000"/>
<rect x="93" y="779" width="31" height="1" fill="#000"/>
<rect x="124" y="797" width="1" height="177" fill="#000"/>
<rect x="93" y="797" width="31" height="1" fill="#000"/>
<rect x="117" y="815" width="7" height="1" fill="#000"/>
<rect x="117" y="832" width="7" height="1" fill="#000"/>
<rect x="117" y="850" width="7" height="1" fill="#000"/>
<rect x="117" y="867" width="7" height="1" fill="#000"/>
<rect x="109" y="885" width="15" height="1" fill="#000"/>
<rect x="117" y="903" width="7" height="1" fill="#000"/>
<rect x="117" y="920" width="7" height="1" fill="#000"/>
<rect x="117" y="938" width="7" height="1" fill="#000"/>
<rect x="117" y="955" width="7" height="1" fill="#000"/>
<rect x="93" y="973" width="31" height="1" fill="#000"/>
<rect x="124" y="973" width="1427" height="1" fill="#000"/>
<rect x="124" y="973" width="1" height="32" fill="#000"/>
<rect x="160" y="973" width="1" height="8" fill="#000"/>
<rect x="195" y="973" width="1" height="8" fill="#000"/>
<rect x="231" y="973" width="1" height="8" fill="#000"/>
<rect x="267" y="973" width="1" height="8" fill="#000"/>
<rect x="302" y="973" width="1" height="16" fill="#000"/>
<rect x="338" y="973" width="1" height="8" fill="#000"/>
<rect x="374" y="973" width="1" height="8" fill="#000"/>
<rect x="409" y="973" width="1" height="8" fill="#000"/>
<rect x="445" y="973" width="1" height="8" fill="#000"/>
<rect x="481" y="973" width="1" height="32" fill="#000"/>
<rect x="516" y="973" width="1" height="8" fill="#000"/>
<rect x="552" y="973" width="1" height="8" fill="#000"/>
<rect x="587" y="973" width="1" height="8" fill="#000"/>
<rect x="623" y="973" width="1" height="8" fill="#000"/>
<rect x="659" y="973" width="1" height="16" fill="#000"/>
<rect x="694" y="973" width="1" height="8" fill="#000"/>
<rect x="730" y="973" width="1" height="8" fill="#000"/>
<rect x="766" y="973" width="1" height="8" fill="#000"/>
<rect x="801" y="973" width="1" height="8" fill="#000"/>
<rect x="837" y="973" width="1" height="32" fill="#000"/>
<rect x="873" y="973" width="1" height="8" fill="#000"/>
<rect x="908" y="973" width="1" height="8" fill="#000"/>
<rect x="944" y="973" width="1" height="8" fill="#000"/>
<rect x="980" y="973" width="1" height="8" fill="#000"/>
<rect x="1015" y="973" width="1" height="16" fill="#000"/>
<rect x="1051" y="973" width="1" height="8" fill="#000"/>
<rect x="1087" y="973" width="1" height="8" fill="#000"/>
<rect x="1122" y="973" width="1" height="8" fill="#000"/>
<rect x="1158" y="973" width="1" height="8" fill="#000"/>
<rect x="1193" y="973" width="1" height="32" fill="#000"/>
<rect x="1229" y="973" width="1" height="8" fill="#000"/>
<rect x="1265" y="973" width="1" height="8" fill="#000"/>
<rect x="1300" y="973" width="1" height="8" fill="#000"/>
<rect x="1336" y="973" width="1" height="8" fill="#000"/>
<rect x="1372" y="973" width="1" height="16" fill="#000"/>
<rect x="1407" y="973" width="1" height="8" fill="#000"/>
<rect x="1443" y="973" width="1" height="8" fill="#000"/>
<rect x="1479" y="973" width="1" height="8" fill="#000"/>
<rect x="1514" y="973" width="1" height="8" fill="#000"/>
<rect x="1550" y="973" width="1" height="32" fill="#000"/>
<rect x="124" y="158" width="5" height="27" fill="#008080"/>
<path d="M123 968h2v6h-2zM124 959h2v10h-2zM124 959h714v2h-714zM836 918h2v43h-2zM837 840h2v79h-2zM837 840h571v2h-571zM1406 840h2v10h-2zM1407 849h2v85h-2zM1408 933h2v28h-2zM1408 959h143v2h-143z" fill="#008000"/>
<rect x="813" y="22" width="1" height="986" fill="#ff0000"/>
<path d="M798.5 2V8.5L813.5 22.5L827.5 8.5V2" fill="#fff" stroke="#ff0000" stroke-width="1" shape-rendering="auto"/>
<rect x="1396" y="22" width="1" height="986" fill="#0000ff"/>
<path d="M1381.5 2V8.5L1396.5 22.5L1410.5 8.5V2" fill="#fff" stroke="#0000ff" stroke-width="1" shape-rendering="auto"/>
</svg>
<div style="position:absolute;left:666px;top:3px;width:108px;height:5px;opacity:.55;background:repeating-linear-gradient(90deg,#ffc8ec 0 1px,transparent 1px 3px),repeating-linear-gradient(0deg,transparent 0 1px,#fff 1px 2px)"></div>
<div class="t yl" style="top:13.5px">5.00</div>
<div class="t yl" style="top:187.5px">5.00</div>
<div class="t yl" style="top:207.5px">20.00</div>
<div class="t yl" style="top:381.5px">-10.00</div>
<div class="t yl" style="top:401.5px">30.00</div>
<div class="t yl" style="top:577.5px">-10.00</div>
<div class="t yl" style="top:595.5px">20.00</div>
<div class="t yl" style="top:771.5px">0.00</div>
<div class="t yl" style="top:789.5px">2.00</div>
<div class="t yl" style="top:965.5px">0.00</div>
<div class="t sl" style="top:96.0px;color:#000">VIN</div>
<div class="t sl" style="top:290.0px;color:#800080">I(L1)</div>
<div class="t sl" style="top:484.0px;color:#000080">SW</div>
<div class="t sl" style="top:678.0px;color:#808000">VOUT</div>
<div class="t sl" style="top:872.0px;color:#008000">AM1</div>
<div class="t xl" style="left:115.5px;top:1013px">0.00</div>
<div class="t xl" style="left:472px;top:1013px">2.50m</div>
<div class="t xl" style="left:828.5px;top:1013px">5.00m</div>
<div class="t xl" style="left:1185px;top:1013px">7.50m</div>
<div class="t xl" style="left:1541.5px;top:1013px">10.00m</div>
<div class="t" style="left:832px;top:1036px;font-size:16px">Time (s)</div>
<div style="position:absolute;left:799px;top:2px;width:28px;height:5px;overflow:hidden"><div style="position:absolute;left:21px;top:0;width:7px;height:5px;background:#ffc4ff"></div><div class="t" style="left:6px;top:-17px;font-size:26px;font-weight:bold;color:#ff0000;-webkit-text-stroke:0.7px #ff0000">a</div></div>
<div style="position:absolute;left:1382px;top:2px;width:28px;height:5px;overflow:hidden"><div style="position:absolute;left:19px;top:0;width:9px;height:5px;background:#c4d4ff"></div><div class="t" style="left:7px;top:-17px;font-size:26px;font-weight:bold;color:#0000ff;-webkit-text-stroke:0.7px #0000ff">b</div></div>
<div id="dlg"><div class="cap"></div>
<div class="grp" style="top:15px;height:29px"></div><div class="gl" style="top:11px">A</div>
<div class="tx" style="left:13px;top:26px">x:</div><div class="in" style="left:25px;top:21px"></div><div class="tx" style="left:29px;top:26px">4.83m</div>
<div class="tx" style="left:103px;top:26px">y:</div><div class="in" style="left:113px;top:21px"></div><div class="tx" style="left:117px;top:26px">12.42</div>
<div class="grp" style="top:53px;height:30px"></div><div class="gl" style="top:49px">B</div>
<div class="tx" style="left:13px;top:64px">x:</div><div class="in" style="left:25px;top:59px"></div><div class="tx" style="left:29px;top:64px">8.92m</div>
<div class="tx" style="left:103px;top:64px">y:</div><div class="in" style="left:113px;top:59px"></div><div class="tx" style="left:117px;top:64px">8.37</div>
<div class="btn"><div class="tx" style="left:1px;top:2px;font-size:17.5px;color:#ff0000;-webkit-text-stroke:0.3px #ff0000">a</div><svg style="position:absolute;left:10px;top:8px" width="10" height="7" viewBox="0 0 10 7"><path d="M2 3.5H9.5" fill="none" stroke="#000080" stroke-width="1.5"/><path d="M0 3.5L4 0.8V6.2z" fill="#000080"/></svg></div>
<div class="grp" style="top:92px;height:23px"></div><div class="gl" style="top:88px">A - B</div>
<div class="tx" style="left:12px;top:100px">x:</div><div class="tx" style="left:29px;top:100px">-4.09m</div>
<div class="tx" style="left:114px;top:100px">y: 4.06</div>
</div>
</body></html>
